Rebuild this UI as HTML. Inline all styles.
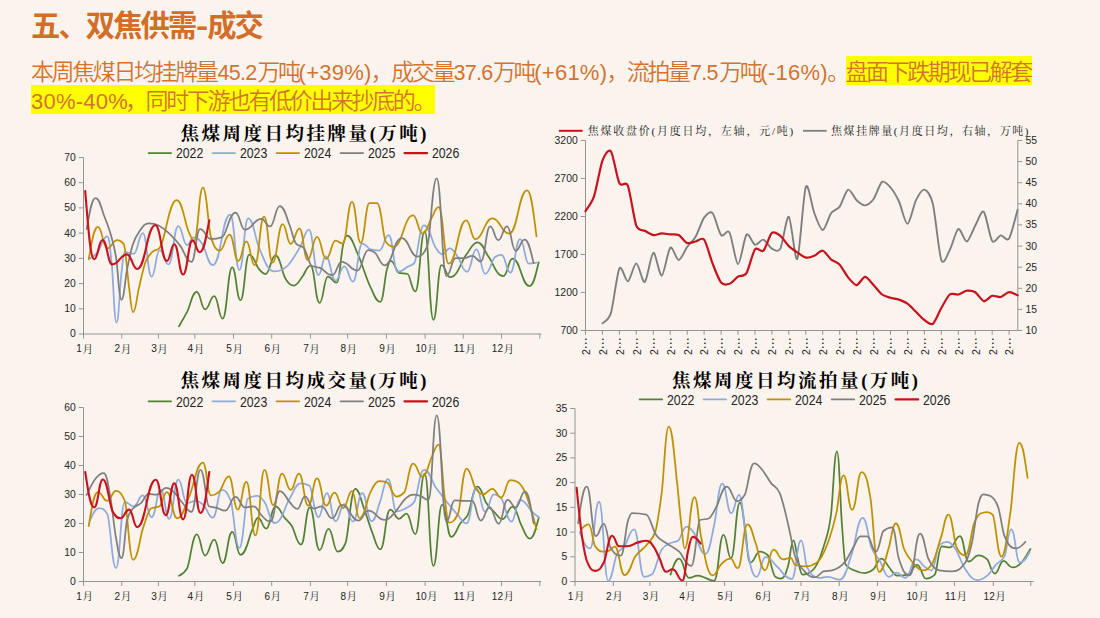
<!DOCTYPE html>
<html lang="zh-CN"><head><meta charset="utf-8"><title>五、双焦供需-成交</title>
<style>
html,body{margin:0;padding:0}
body{width:1100px;height:618px;background:#FBF3EE;position:relative;overflow:hidden;font-family:"Liberation Sans","Noto Sans CJK SC",sans-serif}
h1{position:absolute;left:31px;top:5.8px;margin:0;font-size:29.3px;line-height:40px;font-weight:700;color:#D26E28;white-space:nowrap;letter-spacing:-1.9px}
h1 b{display:inline-block;width:10px;margin-left:1.75px;text-align:center;letter-spacing:0;font-weight:700;transform:scaleX(1.25)}
.p{position:absolute;left:31px;margin:0;font-weight:350;font-size:23px;letter-spacing:-2.4px;line-height:28.6px;height:28.6px;color:#D4732F;white-space:nowrap}
.p1{top:58px}.p2{top:86.8px}
.y{position:absolute;background:#FFFF00}
.hl{display:inline}
.n{display:inline-block;text-align:center;font-size:22px;letter-spacing:0.25px;position:relative;top:0.4px}
.n2{font-size:21.5px;letter-spacing:-0.7px}
svg{position:absolute;left:0;top:0}
</style></head><body>
<h1>五、双焦供需<b>-</b>成交</h1>
<div class="y" style="left:845.6px;top:56px;width:186.4px;height:28.5px"></div><div class="y" style="left:30.8px;top:85.2px;width:404.4px;height:28.6px"></div>
<p class="p p1">本周焦煤日均挂牌量<span class="n n2" style="width:41px">45.2</span>万吨<span class="n" style="width:72px">(+39%)</span>，成交量<span class="n n2" style="width:40px">37.6</span>万吨<span class="n" style="width:72px">(+61%)</span>，流拍量<span class="n n2" style="width:30.5px">7.5</span>万吨<span class="n" style="width:67px">(-16%)</span><span style="margin-right:-2.5px">。</span><span class="hl">盘面下跌期现已解套</span></p>
<p class="p p2"><span class="hl"><span class="n" style="width:94px;text-align:left">30%-40%</span>，同时下游也有低价出来抄底的。</span></p>
<svg width="1100" height="618" viewBox="0 0 1100 618">
<line x1="83.5" y1="157.5" x2="83.5" y2="334.0" stroke="#949494" stroke-width="1"/>
<line x1="83.5" y1="334.0" x2="541.3" y2="334.0" stroke="#949494" stroke-width="1"/>
<line x1="78.8" y1="334.0" x2="83.5" y2="334.0" stroke="#949494" stroke-width="1"/>
<text x="75.7" y="337.4" font-size="11.8" text-anchor="end" font-family='"Liberation Sans","Noto Sans CJK SC",sans-serif' fill="#262626" textLength="5.8" lengthAdjust="spacingAndGlyphs">0</text>
<line x1="78.8" y1="308.8" x2="83.5" y2="308.8" stroke="#949494" stroke-width="1"/>
<text x="75.7" y="312.2" font-size="11.8" text-anchor="end" font-family='"Liberation Sans","Noto Sans CJK SC",sans-serif' fill="#262626" textLength="11.5" lengthAdjust="spacingAndGlyphs">10</text>
<line x1="78.8" y1="283.6" x2="83.5" y2="283.6" stroke="#949494" stroke-width="1"/>
<text x="75.7" y="287.0" font-size="11.8" text-anchor="end" font-family='"Liberation Sans","Noto Sans CJK SC",sans-serif' fill="#262626" textLength="11.5" lengthAdjust="spacingAndGlyphs">20</text>
<line x1="78.8" y1="258.4" x2="83.5" y2="258.4" stroke="#949494" stroke-width="1"/>
<text x="75.7" y="261.8" font-size="11.8" text-anchor="end" font-family='"Liberation Sans","Noto Sans CJK SC",sans-serif' fill="#262626" textLength="11.5" lengthAdjust="spacingAndGlyphs">30</text>
<line x1="78.8" y1="233.1" x2="83.5" y2="233.1" stroke="#949494" stroke-width="1"/>
<text x="75.7" y="236.5" font-size="11.8" text-anchor="end" font-family='"Liberation Sans","Noto Sans CJK SC",sans-serif' fill="#262626" textLength="11.5" lengthAdjust="spacingAndGlyphs">40</text>
<line x1="78.8" y1="207.9" x2="83.5" y2="207.9" stroke="#949494" stroke-width="1"/>
<text x="75.7" y="211.3" font-size="11.8" text-anchor="end" font-family='"Liberation Sans","Noto Sans CJK SC",sans-serif' fill="#262626" textLength="11.5" lengthAdjust="spacingAndGlyphs">50</text>
<line x1="78.8" y1="182.7" x2="83.5" y2="182.7" stroke="#949494" stroke-width="1"/>
<text x="75.7" y="186.1" font-size="11.8" text-anchor="end" font-family='"Liberation Sans","Noto Sans CJK SC",sans-serif' fill="#262626" textLength="11.5" lengthAdjust="spacingAndGlyphs">60</text>
<line x1="78.8" y1="157.5" x2="83.5" y2="157.5" stroke="#949494" stroke-width="1"/>
<text x="75.7" y="160.9" font-size="11.8" text-anchor="end" font-family='"Liberation Sans","Noto Sans CJK SC",sans-serif' fill="#262626" textLength="11.5" lengthAdjust="spacingAndGlyphs">70</text>
<line x1="83.5" y1="334.0" x2="83.5" y2="338.5" stroke="#949494" stroke-width="1"/>
<text x="76.3" y="352.3" font-size="11.3" text-anchor="start" font-family='"Liberation Sans","Noto Sans CJK SC",sans-serif' fill="#262626" textLength="5.6" lengthAdjust="spacingAndGlyphs">1</text>
<text x="82.4" y="352.6" font-size="10.6" text-anchor="start" font-family='"Liberation Serif","Noto Serif CJK SC",serif' fill="#262626">月</text>
<line x1="121.8" y1="334.0" x2="121.8" y2="338.5" stroke="#949494" stroke-width="1"/>
<text x="114.6" y="352.3" font-size="11.3" text-anchor="start" font-family='"Liberation Sans","Noto Sans CJK SC",sans-serif' fill="#262626" textLength="5.6" lengthAdjust="spacingAndGlyphs">2</text>
<text x="120.7" y="352.6" font-size="10.6" text-anchor="start" font-family='"Liberation Serif","Noto Serif CJK SC",serif' fill="#262626">月</text>
<line x1="158.4" y1="334.0" x2="158.4" y2="338.5" stroke="#949494" stroke-width="1"/>
<text x="151.2" y="352.3" font-size="11.3" text-anchor="start" font-family='"Liberation Sans","Noto Sans CJK SC",sans-serif' fill="#262626" textLength="5.6" lengthAdjust="spacingAndGlyphs">3</text>
<text x="157.3" y="352.6" font-size="10.6" text-anchor="start" font-family='"Liberation Serif","Noto Serif CJK SC",serif' fill="#262626">月</text>
<line x1="194.8" y1="334.0" x2="194.8" y2="338.5" stroke="#949494" stroke-width="1"/>
<text x="187.6" y="352.3" font-size="11.3" text-anchor="start" font-family='"Liberation Sans","Noto Sans CJK SC",sans-serif' fill="#262626" textLength="5.6" lengthAdjust="spacingAndGlyphs">4</text>
<text x="193.7" y="352.6" font-size="10.6" text-anchor="start" font-family='"Liberation Serif","Noto Serif CJK SC",serif' fill="#262626">月</text>
<line x1="233.5" y1="334.0" x2="233.5" y2="338.5" stroke="#949494" stroke-width="1"/>
<text x="226.3" y="352.3" font-size="11.3" text-anchor="start" font-family='"Liberation Sans","Noto Sans CJK SC",sans-serif' fill="#262626" textLength="5.6" lengthAdjust="spacingAndGlyphs">5</text>
<text x="232.4" y="352.6" font-size="10.6" text-anchor="start" font-family='"Liberation Serif","Noto Serif CJK SC",serif' fill="#262626">月</text>
<line x1="271.7" y1="334.0" x2="271.7" y2="338.5" stroke="#949494" stroke-width="1"/>
<text x="264.5" y="352.3" font-size="11.3" text-anchor="start" font-family='"Liberation Sans","Noto Sans CJK SC",sans-serif' fill="#262626" textLength="5.6" lengthAdjust="spacingAndGlyphs">6</text>
<text x="270.6" y="352.6" font-size="10.6" text-anchor="start" font-family='"Liberation Serif","Noto Serif CJK SC",serif' fill="#262626">月</text>
<line x1="310.4" y1="334.0" x2="310.4" y2="338.5" stroke="#949494" stroke-width="1"/>
<text x="303.2" y="352.3" font-size="11.3" text-anchor="start" font-family='"Liberation Sans","Noto Sans CJK SC",sans-serif' fill="#262626" textLength="5.6" lengthAdjust="spacingAndGlyphs">7</text>
<text x="309.3" y="352.6" font-size="10.6" text-anchor="start" font-family='"Liberation Serif","Noto Serif CJK SC",serif' fill="#262626">月</text>
<line x1="347.6" y1="334.0" x2="347.6" y2="338.5" stroke="#949494" stroke-width="1"/>
<text x="340.4" y="352.3" font-size="11.3" text-anchor="start" font-family='"Liberation Sans","Noto Sans CJK SC",sans-serif' fill="#262626" textLength="5.6" lengthAdjust="spacingAndGlyphs">8</text>
<text x="346.5" y="352.6" font-size="10.6" text-anchor="start" font-family='"Liberation Serif","Noto Serif CJK SC",serif' fill="#262626">月</text>
<line x1="386.4" y1="334.0" x2="386.4" y2="338.5" stroke="#949494" stroke-width="1"/>
<text x="379.2" y="352.3" font-size="11.3" text-anchor="start" font-family='"Liberation Sans","Noto Sans CJK SC",sans-serif' fill="#262626" textLength="5.6" lengthAdjust="spacingAndGlyphs">9</text>
<text x="385.3" y="352.6" font-size="10.6" text-anchor="start" font-family='"Liberation Serif","Noto Serif CJK SC",serif' fill="#262626">月</text>
<line x1="425.1" y1="334.0" x2="425.1" y2="338.5" stroke="#949494" stroke-width="1"/>
<text x="415.4" y="352.3" font-size="11.3" text-anchor="start" font-family='"Liberation Sans","Noto Sans CJK SC",sans-serif' fill="#262626" textLength="11.2" lengthAdjust="spacingAndGlyphs">10</text>
<text x="427.1" y="352.6" font-size="10.6" text-anchor="start" font-family='"Liberation Serif","Noto Serif CJK SC",serif' fill="#262626">月</text>
<line x1="463.3" y1="334.0" x2="463.3" y2="338.5" stroke="#949494" stroke-width="1"/>
<text x="453.6" y="352.3" font-size="11.3" text-anchor="start" font-family='"Liberation Sans","Noto Sans CJK SC",sans-serif' fill="#262626" textLength="11.2" lengthAdjust="spacingAndGlyphs">11</text>
<text x="465.3" y="352.6" font-size="10.6" text-anchor="start" font-family='"Liberation Serif","Noto Serif CJK SC",serif' fill="#262626">月</text>
<line x1="501.5" y1="334.0" x2="501.5" y2="338.5" stroke="#949494" stroke-width="1"/>
<text x="491.8" y="352.3" font-size="11.3" text-anchor="start" font-family='"Liberation Sans","Noto Sans CJK SC",sans-serif' fill="#262626" textLength="11.2" lengthAdjust="spacingAndGlyphs">12</text>
<text x="503.5" y="352.6" font-size="10.6" text-anchor="start" font-family='"Liberation Serif","Noto Serif CJK SC",serif' fill="#262626">月</text>
<line x1="539.8" y1="334.0" x2="539.8" y2="338.5" stroke="#949494" stroke-width="1"/>
<path d="M178.9 326.4C181.6 321.8 184.3 317.3 187.0 312.2C190.3 306.0 192.2 291.9 196.8 291.9C200.7 291.9 201.2 309.3 205.1 309.3C209.4 309.3 210.0 296.2 214.3 296.2C218.2 296.2 218.7 318.7 222.6 318.7C227.1 318.7 227.7 267.4 232.2 267.4C236.1 267.4 236.6 300.2 240.5 300.2C244.6 300.2 245.1 254.7 249.2 254.7C253.9 254.7 255.8 265.8 259.1 269.2C261.3 271.4 262.5 274.0 265.6 274.0C270.2 274.0 270.8 255.4 275.5 255.4C280.1 255.4 282.0 273.3 285.3 278.3C288.0 282.6 289.7 285.5 293.6 285.5C297.9 285.5 299.7 279.8 302.7 276.1C305.3 273.0 306.8 265.7 310.5 265.7C314.8 265.7 315.3 302.8 319.6 302.8C323.5 302.8 324.0 276.6 327.9 276.6C332.0 276.6 332.6 282.7 336.7 282.7C339.7 282.7 341.0 252.3 343.2 244.5C344.5 239.8 345.3 235.7 347.1 235.7C352.0 235.7 354.0 246.1 357.4 253.2C361.8 262.3 366.1 278.5 370.5 287.1C373.8 293.5 375.7 301.9 380.3 301.9C383.4 301.9 384.7 276.7 386.9 269.6C388.2 265.4 389.0 260.9 390.8 260.9C394.6 260.9 396.2 272.2 398.9 272.9C401.8 273.6 404.7 273.2 407.6 274.0C410.2 274.6 411.7 291.4 415.3 291.4C419.7 291.4 420.3 231.4 424.7 231.4C428.8 231.4 429.3 319.8 433.4 319.8C437.2 319.8 437.7 265.2 441.5 265.2C445.6 265.2 446.1 277.2 450.2 277.2C457.9 277.2 461.1 261.0 466.6 254.3C470.2 249.9 472.4 242.3 477.5 242.3C482.7 242.3 484.8 251.7 488.4 256.5C493.4 263.0 496.3 276.1 503.3 276.1C507.6 276.1 508.2 258.7 512.5 258.7C520.5 258.7 521.5 286.0 529.5 286.0C533.8 286.0 535.6 274.2 538.7 262.4" fill="none" stroke="#548235" stroke-width="1.75" stroke-linecap="round" stroke-linejoin="round"/>
<path d="M89.8 258.5C92.4 257.1 94.9 255.6 97.5 252.6C100.7 248.8 102.7 236.3 107.3 236.3C109.4 236.3 110.2 250.3 111.7 263.6C113.3 278.2 114.2 322.5 116.5 322.5C118.8 322.5 119.8 285.1 121.5 272.3C122.6 263.9 123.2 252.2 124.8 252.2C128.9 252.2 129.4 253.9 133.5 253.9C137.9 253.9 138.5 233.0 142.9 233.0C147.0 233.0 147.5 276.7 151.6 276.7C155.4 276.7 155.9 250.0 159.7 250.0C163.8 250.0 164.3 264.4 168.4 264.4C173.1 264.4 173.7 226.0 178.3 226.0C182.4 226.0 182.9 245.0 187.0 245.0C190.1 245.0 190.5 237.4 193.6 237.4C197.7 237.4 199.4 240.0 202.3 243.9C205.8 248.5 207.8 265.1 212.8 265.1C221.0 265.1 222.0 214.6 230.2 214.6C234.6 214.6 235.1 269.9 239.4 269.9C243.5 269.9 244.0 218.4 248.2 218.4C253.3 218.4 255.4 239.8 259.1 247.8C264.2 259.1 267.2 271.4 274.4 271.4C286.7 271.4 291.8 261.1 300.6 246.1C303.4 241.3 305.0 229.7 308.9 229.7C313.4 229.7 314.0 275.1 318.5 275.1C321.9 275.1 322.4 256.4 325.7 256.4C330.4 256.4 331.0 280.6 335.6 280.6C339.7 280.6 340.2 266.4 344.3 266.4C348.4 266.4 348.9 281.7 353.0 281.7C357.4 281.7 357.9 243.5 362.2 243.5C366.1 243.5 367.7 248.7 370.5 249.4C373.4 250.1 375.1 250.5 379.2 250.5C383.7 250.5 384.2 235.2 388.6 235.2C393.0 235.2 393.5 271.9 397.8 271.9C402.4 271.9 404.4 268.6 407.6 266.8C409.8 265.6 412.0 265.6 414.2 263.1C417.5 259.4 419.4 225.3 424.0 225.3C429.7 225.3 432.0 243.2 436.0 248.3C438.2 251.1 439.5 254.4 442.6 254.4C445.9 254.4 446.3 248.3 449.6 248.3C453.5 248.3 455.1 253.4 457.9 257.0C460.9 261.0 462.7 271.9 467.0 271.9C471.5 271.9 472.0 249.4 476.4 249.4C480.5 249.4 481.1 273.8 485.2 273.8C489.8 273.8 491.7 259.2 495.0 257.0C497.2 255.6 498.5 254.8 501.5 254.8C505.6 254.8 506.2 272.7 510.3 272.7C514.9 272.7 515.5 239.1 520.1 239.1C524.2 239.1 524.7 263.6 528.8 263.6C532.6 263.6 534.2 263.0 536.9 262.5" fill="none" stroke="#8FAADC" stroke-width="1.75" stroke-linecap="round" stroke-linejoin="round"/>
<path d="M88.7 259.2C91.8 243.0 93.6 226.9 97.9 226.9C102.3 226.9 102.9 248.3 107.3 248.3C111.9 248.3 112.5 240.2 117.1 240.2C120.2 240.2 121.5 241.4 123.7 243.9C125.5 246.0 127.3 274.8 129.1 287.6C130.4 296.7 131.2 312.3 133.1 312.3C135.8 312.3 137.0 295.5 139.0 287.6C141.1 278.7 143.3 267.9 145.5 262.0C147.7 256.1 149.9 254.5 152.1 252.2C154.6 249.5 157.2 250.7 159.7 247.8C165.4 241.3 168.7 200.2 176.7 200.2C182.6 200.2 185.0 225.2 189.2 233.0C190.8 236.0 191.7 240.6 194.0 240.6C198.2 240.6 198.7 187.6 202.9 187.6C206.7 187.6 208.3 229.3 211.0 237.4C213.9 246.1 215.7 250.5 219.8 250.5C224.4 250.5 225.0 234.7 229.6 234.7C233.7 234.7 234.2 260.9 238.3 260.9C242.1 260.9 242.6 241.3 246.4 241.3C250.3 241.3 250.8 265.3 254.7 265.3C259.1 265.3 259.7 216.6 264.1 216.6C268.1 216.6 268.6 262.5 272.6 262.5C277.3 262.5 277.9 224.2 282.7 224.2C286.5 224.2 286.9 243.9 290.7 243.9C294.8 243.9 295.4 228.6 299.5 228.6C303.3 228.6 303.8 259.8 307.6 259.8C312.0 259.8 312.6 236.9 317.0 236.9C321.3 236.9 321.9 258.8 326.2 258.8C330.6 258.8 331.2 240.6 335.6 240.6C338.9 240.6 339.3 243.5 342.6 243.5C347.0 243.5 347.5 201.8 352.0 201.8C356.1 201.8 356.6 242.8 360.7 242.8C364.8 242.8 365.3 203.1 369.4 203.1C373.0 203.1 373.5 203.1 377.1 203.1C381.2 203.1 382.9 237.9 385.8 241.7C388.3 245.1 389.9 246.7 393.4 246.7C402.7 246.7 403.9 215.5 413.1 215.5C417.5 215.5 418.1 233.6 422.5 233.6C426.8 233.6 428.6 222.6 431.7 217.7C434.0 214.0 435.4 207.2 438.6 207.2C443.4 207.2 444.0 263.6 448.7 263.6C456.9 263.6 458.0 220.3 466.2 220.3C470.5 220.3 471.0 239.1 475.3 239.1C483.3 239.1 484.4 218.4 492.4 218.4C500.3 218.4 501.3 233.6 509.2 233.6C517.6 233.6 518.7 190.4 527.1 190.4C531.5 190.4 533.4 213.3 536.5 236.3" fill="none" stroke="#BF9000" stroke-width="1.75" stroke-linecap="round" stroke-linejoin="round"/>
<path d="M86.6 229.1C89.6 213.5 91.4 198.0 95.7 198.0C99.6 198.0 101.3 208.6 104.0 215.5C106.2 221.0 108.4 226.3 110.6 234.1C112.4 240.6 114.2 246.1 116.0 257.0C117.9 268.0 118.9 299.8 121.5 299.8C124.1 299.8 125.1 278.7 127.0 269.7C128.8 260.6 130.6 251.8 132.4 245.7C135.0 237.0 137.5 234.0 140.1 230.4C143.0 226.2 144.7 223.4 148.8 223.4C157.5 223.4 161.2 226.8 167.4 231.9C171.7 235.5 176.1 240.5 180.5 246.1C184.1 250.7 186.2 261.8 191.4 261.8C195.5 261.8 196.0 229.1 200.1 229.1C205.2 229.1 205.9 239.1 211.0 239.1C216.2 239.1 218.3 238.5 221.9 237.4C226.5 235.9 229.1 212.7 235.5 212.7C239.9 212.7 240.5 229.7 244.9 229.7C252.6 229.7 253.6 218.8 261.3 218.8C265.4 218.8 265.9 226.4 270.0 226.4C274.6 226.4 275.2 206.1 279.8 206.1C284.4 206.1 286.4 217.2 289.6 225.3C291.8 230.8 294.0 241.7 296.2 243.9C298.7 246.5 301.3 245.2 303.8 247.8C306.4 250.5 309.0 264.5 311.6 265.7C314.5 267.2 317.4 266.8 320.3 267.9C324.3 269.5 326.7 275.1 332.3 275.1C336.7 275.1 337.3 261.8 341.7 261.8C349.1 261.8 350.0 270.5 357.4 270.5C362.5 270.5 363.2 250.0 368.3 250.0C371.4 250.0 372.7 251.0 374.9 252.6C378.2 255.1 380.1 265.3 384.7 265.3C392.7 265.3 393.7 238.0 401.7 238.0C409.1 238.0 410.1 256.6 417.5 256.6C422.1 256.6 424.0 253.1 427.3 246.1C430.4 239.4 432.3 178.4 436.7 178.4C441.3 178.4 441.9 276.0 446.5 276.0C450.8 276.0 451.4 258.1 455.7 258.1C459.8 258.1 460.3 258.1 464.4 258.1C468.0 258.1 468.5 255.9 472.1 255.9C476.2 255.9 476.7 261.4 480.8 261.4C485.2 261.4 485.8 226.4 490.2 226.4C494.0 226.4 494.5 240.2 498.3 240.2C502.4 240.2 502.9 226.4 507.0 226.4C511.1 226.4 511.6 250.9 515.7 250.9C519.8 250.9 520.4 239.5 524.5 239.5C528.8 239.5 530.6 251.3 533.6 263.1" fill="none" stroke="#7F7F7F" stroke-width="1.75" stroke-linecap="round" stroke-linejoin="round"/>
<path d="M85.2 191.1C88.2 225.1 90.0 259.2 94.2 259.2C98.1 259.2 98.6 240.0 102.5 240.0C107.1 240.0 107.7 264.4 112.3 264.4C119.2 264.4 120.1 254.4 127.0 254.4C131.8 254.4 132.4 269.0 137.2 269.0C145.7 269.0 146.8 225.3 155.3 225.3C160.8 225.3 161.5 260.9 166.9 260.9C170.4 260.9 170.9 244.3 174.3 244.3C178.4 244.3 179.0 274.5 183.1 274.5C187.5 274.5 188.1 240.6 192.5 240.6C195.9 240.6 196.3 252.2 199.7 252.2C204.2 252.2 206.1 236.3 209.3 220.3" fill="none" stroke="#C9121C" stroke-width="2.1" stroke-linecap="round" stroke-linejoin="round"/>
<text x="303.5" y="139.5" font-size="18.5" text-anchor="middle" font-family='"Liberation Serif","Noto Serif CJK SC",serif' font-weight="bold" fill="#000" textLength="246" lengthAdjust="spacing">焦煤周度日均挂牌量(万吨)</text>
<line x1="148.5" y1="153.1" x2="171.1" y2="153.1" stroke="#548235" stroke-width="1.75" stroke-linecap="round"/>
<text x="175.9" y="158.3" font-size="13.8" text-anchor="start" font-family='"Liberation Sans","Noto Sans CJK SC",sans-serif' fill="#262626" textLength="27.4" lengthAdjust="spacingAndGlyphs">2022</text>
<line x1="212.5" y1="153.1" x2="235.1" y2="153.1" stroke="#8FAADC" stroke-width="1.75" stroke-linecap="round"/>
<text x="239.9" y="158.3" font-size="13.8" text-anchor="start" font-family='"Liberation Sans","Noto Sans CJK SC",sans-serif' fill="#262626" textLength="27.4" lengthAdjust="spacingAndGlyphs">2023</text>
<line x1="276.5" y1="153.1" x2="299.1" y2="153.1" stroke="#BF9000" stroke-width="1.75" stroke-linecap="round"/>
<text x="303.9" y="158.3" font-size="13.8" text-anchor="start" font-family='"Liberation Sans","Noto Sans CJK SC",sans-serif' fill="#262626" textLength="27.4" lengthAdjust="spacingAndGlyphs">2024</text>
<line x1="340.5" y1="153.1" x2="363.1" y2="153.1" stroke="#7F7F7F" stroke-width="1.75" stroke-linecap="round"/>
<text x="367.9" y="158.3" font-size="13.8" text-anchor="start" font-family='"Liberation Sans","Noto Sans CJK SC",sans-serif' fill="#262626" textLength="27.4" lengthAdjust="spacingAndGlyphs">2025</text>
<line x1="404.5" y1="153.1" x2="427.1" y2="153.1" stroke="#C9121C" stroke-width="2.2" stroke-linecap="round"/>
<text x="431.9" y="158.3" font-size="13.8" text-anchor="start" font-family='"Liberation Sans","Noto Sans CJK SC",sans-serif' fill="#262626" textLength="27.4" lengthAdjust="spacingAndGlyphs">2026</text>
<line x1="83.5" y1="407.5" x2="83.5" y2="581.5" stroke="#949494" stroke-width="1"/>
<line x1="83.5" y1="581.5" x2="541.3" y2="581.5" stroke="#949494" stroke-width="1"/>
<line x1="78.8" y1="581.5" x2="83.5" y2="581.5" stroke="#949494" stroke-width="1"/>
<text x="75.7" y="584.9" font-size="11.8" text-anchor="end" font-family='"Liberation Sans","Noto Sans CJK SC",sans-serif' fill="#262626" textLength="5.8" lengthAdjust="spacingAndGlyphs">0</text>
<line x1="78.8" y1="552.5" x2="83.5" y2="552.5" stroke="#949494" stroke-width="1"/>
<text x="75.7" y="555.9" font-size="11.8" text-anchor="end" font-family='"Liberation Sans","Noto Sans CJK SC",sans-serif' fill="#262626" textLength="11.5" lengthAdjust="spacingAndGlyphs">10</text>
<line x1="78.8" y1="523.5" x2="83.5" y2="523.5" stroke="#949494" stroke-width="1"/>
<text x="75.7" y="526.9" font-size="11.8" text-anchor="end" font-family='"Liberation Sans","Noto Sans CJK SC",sans-serif' fill="#262626" textLength="11.5" lengthAdjust="spacingAndGlyphs">20</text>
<line x1="78.8" y1="494.5" x2="83.5" y2="494.5" stroke="#949494" stroke-width="1"/>
<text x="75.7" y="497.9" font-size="11.8" text-anchor="end" font-family='"Liberation Sans","Noto Sans CJK SC",sans-serif' fill="#262626" textLength="11.5" lengthAdjust="spacingAndGlyphs">30</text>
<line x1="78.8" y1="465.5" x2="83.5" y2="465.5" stroke="#949494" stroke-width="1"/>
<text x="75.7" y="468.9" font-size="11.8" text-anchor="end" font-family='"Liberation Sans","Noto Sans CJK SC",sans-serif' fill="#262626" textLength="11.5" lengthAdjust="spacingAndGlyphs">40</text>
<line x1="78.8" y1="436.5" x2="83.5" y2="436.5" stroke="#949494" stroke-width="1"/>
<text x="75.7" y="439.9" font-size="11.8" text-anchor="end" font-family='"Liberation Sans","Noto Sans CJK SC",sans-serif' fill="#262626" textLength="11.5" lengthAdjust="spacingAndGlyphs">50</text>
<line x1="78.8" y1="407.5" x2="83.5" y2="407.5" stroke="#949494" stroke-width="1"/>
<text x="75.7" y="410.9" font-size="11.8" text-anchor="end" font-family='"Liberation Sans","Noto Sans CJK SC",sans-serif' fill="#262626" textLength="11.5" lengthAdjust="spacingAndGlyphs">60</text>
<line x1="83.5" y1="581.5" x2="83.5" y2="586.0" stroke="#949494" stroke-width="1"/>
<text x="76.3" y="599.8" font-size="11.3" text-anchor="start" font-family='"Liberation Sans","Noto Sans CJK SC",sans-serif' fill="#262626" textLength="5.6" lengthAdjust="spacingAndGlyphs">1</text>
<text x="82.4" y="600.1" font-size="10.6" text-anchor="start" font-family='"Liberation Serif","Noto Serif CJK SC",serif' fill="#262626">月</text>
<line x1="121.8" y1="581.5" x2="121.8" y2="586.0" stroke="#949494" stroke-width="1"/>
<text x="114.6" y="599.8" font-size="11.3" text-anchor="start" font-family='"Liberation Sans","Noto Sans CJK SC",sans-serif' fill="#262626" textLength="5.6" lengthAdjust="spacingAndGlyphs">2</text>
<text x="120.7" y="600.1" font-size="10.6" text-anchor="start" font-family='"Liberation Serif","Noto Serif CJK SC",serif' fill="#262626">月</text>
<line x1="158.4" y1="581.5" x2="158.4" y2="586.0" stroke="#949494" stroke-width="1"/>
<text x="151.2" y="599.8" font-size="11.3" text-anchor="start" font-family='"Liberation Sans","Noto Sans CJK SC",sans-serif' fill="#262626" textLength="5.6" lengthAdjust="spacingAndGlyphs">3</text>
<text x="157.3" y="600.1" font-size="10.6" text-anchor="start" font-family='"Liberation Serif","Noto Serif CJK SC",serif' fill="#262626">月</text>
<line x1="194.8" y1="581.5" x2="194.8" y2="586.0" stroke="#949494" stroke-width="1"/>
<text x="187.6" y="599.8" font-size="11.3" text-anchor="start" font-family='"Liberation Sans","Noto Sans CJK SC",sans-serif' fill="#262626" textLength="5.6" lengthAdjust="spacingAndGlyphs">4</text>
<text x="193.7" y="600.1" font-size="10.6" text-anchor="start" font-family='"Liberation Serif","Noto Serif CJK SC",serif' fill="#262626">月</text>
<line x1="233.5" y1="581.5" x2="233.5" y2="586.0" stroke="#949494" stroke-width="1"/>
<text x="226.3" y="599.8" font-size="11.3" text-anchor="start" font-family='"Liberation Sans","Noto Sans CJK SC",sans-serif' fill="#262626" textLength="5.6" lengthAdjust="spacingAndGlyphs">5</text>
<text x="232.4" y="600.1" font-size="10.6" text-anchor="start" font-family='"Liberation Serif","Noto Serif CJK SC",serif' fill="#262626">月</text>
<line x1="271.7" y1="581.5" x2="271.7" y2="586.0" stroke="#949494" stroke-width="1"/>
<text x="264.5" y="599.8" font-size="11.3" text-anchor="start" font-family='"Liberation Sans","Noto Sans CJK SC",sans-serif' fill="#262626" textLength="5.6" lengthAdjust="spacingAndGlyphs">6</text>
<text x="270.6" y="600.1" font-size="10.6" text-anchor="start" font-family='"Liberation Serif","Noto Serif CJK SC",serif' fill="#262626">月</text>
<line x1="310.4" y1="581.5" x2="310.4" y2="586.0" stroke="#949494" stroke-width="1"/>
<text x="303.2" y="599.8" font-size="11.3" text-anchor="start" font-family='"Liberation Sans","Noto Sans CJK SC",sans-serif' fill="#262626" textLength="5.6" lengthAdjust="spacingAndGlyphs">7</text>
<text x="309.3" y="600.1" font-size="10.6" text-anchor="start" font-family='"Liberation Serif","Noto Serif CJK SC",serif' fill="#262626">月</text>
<line x1="347.6" y1="581.5" x2="347.6" y2="586.0" stroke="#949494" stroke-width="1"/>
<text x="340.4" y="599.8" font-size="11.3" text-anchor="start" font-family='"Liberation Sans","Noto Sans CJK SC",sans-serif' fill="#262626" textLength="5.6" lengthAdjust="spacingAndGlyphs">8</text>
<text x="346.5" y="600.1" font-size="10.6" text-anchor="start" font-family='"Liberation Serif","Noto Serif CJK SC",serif' fill="#262626">月</text>
<line x1="386.4" y1="581.5" x2="386.4" y2="586.0" stroke="#949494" stroke-width="1"/>
<text x="379.2" y="599.8" font-size="11.3" text-anchor="start" font-family='"Liberation Sans","Noto Sans CJK SC",sans-serif' fill="#262626" textLength="5.6" lengthAdjust="spacingAndGlyphs">9</text>
<text x="385.3" y="600.1" font-size="10.6" text-anchor="start" font-family='"Liberation Serif","Noto Serif CJK SC",serif' fill="#262626">月</text>
<line x1="425.1" y1="581.5" x2="425.1" y2="586.0" stroke="#949494" stroke-width="1"/>
<text x="415.4" y="599.8" font-size="11.3" text-anchor="start" font-family='"Liberation Sans","Noto Sans CJK SC",sans-serif' fill="#262626" textLength="11.2" lengthAdjust="spacingAndGlyphs">10</text>
<text x="427.1" y="600.1" font-size="10.6" text-anchor="start" font-family='"Liberation Serif","Noto Serif CJK SC",serif' fill="#262626">月</text>
<line x1="463.3" y1="581.5" x2="463.3" y2="586.0" stroke="#949494" stroke-width="1"/>
<text x="453.6" y="599.8" font-size="11.3" text-anchor="start" font-family='"Liberation Sans","Noto Sans CJK SC",sans-serif' fill="#262626" textLength="11.2" lengthAdjust="spacingAndGlyphs">11</text>
<text x="465.3" y="600.1" font-size="10.6" text-anchor="start" font-family='"Liberation Serif","Noto Serif CJK SC",serif' fill="#262626">月</text>
<line x1="501.5" y1="581.5" x2="501.5" y2="586.0" stroke="#949494" stroke-width="1"/>
<text x="491.8" y="599.8" font-size="11.3" text-anchor="start" font-family='"Liberation Sans","Noto Sans CJK SC",sans-serif' fill="#262626" textLength="11.2" lengthAdjust="spacingAndGlyphs">12</text>
<text x="503.5" y="600.1" font-size="10.6" text-anchor="start" font-family='"Liberation Serif","Noto Serif CJK SC",serif' fill="#262626">月</text>
<line x1="539.8" y1="581.5" x2="539.8" y2="586.0" stroke="#949494" stroke-width="1"/>
<path d="M178.9 575.8C181.6 574.6 184.3 573.4 187.0 568.6C190.3 562.7 192.2 534.3 196.8 534.3C200.7 534.3 201.2 555.5 205.1 555.5C209.4 555.5 210.0 539.7 214.3 539.7C218.2 539.7 218.7 563.1 222.6 563.1C227.1 563.1 227.7 531.9 232.2 531.9C236.1 531.9 236.6 554.8 240.5 554.8C246.2 554.8 248.5 537.6 252.5 529.2C254.3 525.4 255.4 517.9 258.0 517.9C261.9 517.9 262.4 528.6 266.3 528.6C270.6 528.6 271.1 506.3 275.5 506.3C279.6 506.3 281.3 513.8 284.2 517.2C286.7 520.3 289.3 522.0 291.8 526.0C294.9 530.7 296.7 544.5 301.0 544.5C305.1 544.5 305.7 507.4 309.8 507.4C314.4 507.4 315.0 550.0 319.6 550.0C323.8 550.0 324.4 528.8 328.6 528.8C332.9 528.8 333.4 551.7 337.8 551.7C341.3 551.7 342.9 549.0 345.4 543.4C348.7 536.3 350.6 488.8 355.2 488.8C359.3 488.8 361.1 501.0 364.0 508.5C366.9 516.0 369.8 526.5 372.7 533.6C375.2 539.8 376.7 549.3 380.3 549.3C385.0 549.3 385.5 509.6 390.2 509.6C394.3 509.6 394.8 518.8 398.9 518.8C402.5 518.8 403.0 513.5 406.5 513.5C410.7 513.5 411.2 534.1 415.3 534.1C419.7 534.1 420.3 473.6 424.7 473.6C428.8 473.6 429.3 565.9 433.4 565.9C437.5 565.9 438.0 504.8 442.1 504.8C446.5 504.8 447.0 536.9 451.3 536.9C455.4 536.9 457.1 527.6 460.1 523.8C462.6 520.5 465.1 519.9 467.7 515.1C471.0 508.8 472.9 486.7 477.5 486.7C481.6 486.7 483.3 498.7 486.3 503.0C489.2 507.4 492.1 510.1 495.0 512.9C497.5 515.3 499.0 519.0 502.6 519.0C507.3 519.0 507.8 506.8 512.5 506.8C516.6 506.8 518.3 519.6 521.2 524.9C524.1 530.2 525.8 538.6 529.9 538.6C534.0 538.6 535.8 528.2 538.7 517.7" fill="none" stroke="#548235" stroke-width="1.75" stroke-linecap="round" stroke-linejoin="round"/>
<path d="M89.8 520.5C93.0 514.3 94.8 508.1 99.2 508.1C103.0 508.1 104.6 510.0 107.3 514.0C110.2 518.2 111.9 568.1 116.0 568.1C120.1 568.1 120.7 502.0 124.8 502.0C128.9 502.0 129.4 506.3 133.5 506.3C137.9 506.3 138.5 495.4 142.9 495.4C147.0 495.4 147.5 517.2 151.6 517.2C155.9 517.2 156.5 489.9 160.8 489.9C164.7 489.9 165.2 518.8 169.1 518.8C173.4 518.8 174.0 479.7 178.3 479.7C182.4 479.7 182.9 503.0 187.0 503.0C191.1 503.0 191.6 500.9 195.7 500.9C199.8 500.9 201.6 503.4 204.5 506.3C207.2 509.1 208.9 517.7 212.8 517.7C217.1 517.7 217.6 489.9 221.9 489.9C226.1 489.9 227.8 493.6 230.7 500.9C233.6 508.1 235.3 547.8 239.4 547.8C243.3 547.8 244.9 500.4 247.7 498.7C250.8 496.8 252.6 495.8 256.9 495.8C260.5 495.8 262.0 498.5 264.5 502.0C268.0 506.5 270.0 523.1 274.8 523.1C281.8 523.1 284.7 506.1 289.6 498.7C293.3 493.2 295.4 483.4 300.6 483.4C304.7 483.4 306.4 484.1 309.4 485.6C312.4 487.1 314.2 517.2 318.5 517.2C322.4 517.2 322.9 493.2 326.8 493.2C330.9 493.2 331.5 521.2 335.6 521.2C339.7 521.2 340.2 504.1 344.3 504.1C348.4 504.1 348.9 521.6 353.0 521.6C357.4 521.6 357.9 493.2 362.2 493.2C366.6 493.2 367.2 521.2 371.6 521.2C375.7 521.2 377.4 508.5 380.3 500.9C382.9 494.2 384.4 479.0 388.0 479.0C392.1 479.0 392.6 511.3 396.7 511.3C400.8 511.3 402.5 510.1 405.5 508.5C408.4 506.9 411.3 506.3 414.2 502.0C417.5 497.0 419.4 469.8 424.0 469.8C429.7 469.8 432.0 482.2 436.0 487.8C439.7 492.8 443.3 497.4 446.9 502.0C450.6 506.5 454.2 511.2 457.9 515.1C460.8 518.1 462.5 523.4 466.6 523.4C471.2 523.4 471.8 487.8 476.4 487.8C480.5 487.8 481.1 511.8 485.2 511.8C489.3 511.8 489.8 494.3 493.9 494.3C497.5 494.3 499.0 495.8 501.5 498.7C504.8 502.4 506.8 521.6 511.4 521.6C515.5 521.6 516.0 499.8 520.1 499.8C525.7 499.8 528.1 508.2 532.1 511.8C534.3 513.7 536.5 515.5 538.7 517.2" fill="none" stroke="#8FAADC" stroke-width="1.75" stroke-linecap="round" stroke-linejoin="round"/>
<path d="M88.7 526.0C91.8 509.0 93.6 492.1 97.9 492.1C102.3 492.1 102.9 500.9 107.3 500.9C111.4 500.9 111.9 491.0 116.0 491.0C120.1 491.0 121.9 494.3 124.8 500.9C127.5 507.1 129.2 559.8 133.1 559.8C137.9 559.8 139.9 536.5 143.3 527.1C145.9 520.0 148.4 509.8 151.0 508.5C153.9 507.0 156.8 507.8 159.7 506.3C162.1 505.1 163.5 492.1 166.9 492.1C171.7 492.1 172.4 518.3 177.2 518.3C182.8 518.3 185.2 505.0 189.2 496.5C193.8 486.8 196.5 462.6 202.9 462.6C206.7 462.6 207.2 495.4 211.0 495.4C215.1 495.4 216.9 493.9 219.8 491.0C222.8 488.0 224.6 476.4 228.9 476.4C233.0 476.4 233.6 509.6 237.7 509.6C241.8 509.6 242.3 481.9 246.4 481.9C250.6 481.9 251.2 535.4 255.4 535.4C259.7 535.4 260.2 469.8 264.5 469.8C268.6 469.8 269.2 505.2 273.3 505.2C277.4 505.2 277.9 473.6 282.0 473.6C286.1 473.6 286.6 489.9 290.7 489.9C294.6 489.9 295.1 473.6 299.0 473.6C303.4 473.6 303.9 505.7 308.3 505.7C312.4 505.7 312.9 478.4 317.0 478.4C321.3 478.4 321.9 505.7 326.2 505.7C330.1 505.7 330.6 492.6 334.5 492.6C338.6 492.6 339.1 508.1 343.2 508.1C347.3 508.1 347.8 491.0 352.0 491.0C355.5 491.0 356.0 518.3 359.6 518.3C364.7 518.3 366.9 498.5 370.5 492.1C373.4 487.0 375.1 481.2 379.2 481.2C382.8 481.2 384.3 481.6 386.9 482.3C390.2 483.2 392.1 496.5 396.7 496.5C400.3 496.5 401.8 495.0 404.4 492.1C407.3 488.8 409.0 463.7 413.1 463.7C417.5 463.7 418.1 476.8 422.5 476.8C426.8 476.8 428.6 463.1 431.7 457.2C434.0 452.7 435.4 444.7 438.6 444.7C441.5 444.7 442.7 484.6 444.8 498.7C446.2 508.7 447.1 522.7 449.1 522.7C453.2 522.7 455.0 519.8 457.9 514.0C460.8 508.1 462.5 468.5 466.6 468.5C470.7 468.5 472.4 483.4 475.3 487.8C477.9 491.5 479.4 494.3 483.0 494.3C487.4 494.3 488.0 488.8 492.4 488.8C496.5 488.8 497.0 497.6 501.1 497.6C505.4 497.6 506.0 480.1 510.3 480.1C513.9 480.1 515.4 480.8 517.9 482.3C520.1 483.5 522.3 486.7 524.5 491.0C528.5 499.0 532.5 514.1 536.5 529.2" fill="none" stroke="#BF9000" stroke-width="1.75" stroke-linecap="round" stroke-linejoin="round"/>
<path d="M86.6 495.0C89.5 488.8 92.4 482.7 95.3 479.0C98.1 475.6 99.7 473.1 103.6 473.1C106.9 473.1 108.2 485.5 110.6 498.7C112.4 509.0 114.2 528.1 116.0 538.0C117.9 547.9 118.9 558.1 121.5 558.1C124.1 558.1 125.1 528.1 127.0 520.5C128.8 512.9 130.6 511.7 132.4 509.2C135.3 505.1 138.2 505.9 141.1 503.0C143.7 500.6 145.2 493.9 148.8 493.9C152.4 493.9 152.8 494.7 156.4 494.7C161.1 494.7 161.6 487.8 166.3 487.8C169.9 487.8 171.4 489.9 173.9 492.1C176.8 494.7 179.7 499.8 182.6 503.0C185.6 506.3 187.3 511.8 191.4 511.8C195.7 511.8 196.2 469.8 200.5 469.8C204.4 469.8 206.1 505.2 208.8 506.3C211.8 507.5 214.7 507.3 217.6 508.1C220.1 508.8 221.6 510.7 225.2 510.7C230.0 510.7 230.7 496.9 235.5 496.9C239.9 496.9 240.5 507.4 244.9 507.4C249.0 507.4 249.5 506.3 253.6 506.3C257.2 506.3 258.7 512.6 261.3 515.1C264.3 518.0 266.1 521.6 270.4 521.6C274.8 521.6 275.4 491.0 279.8 491.0C284.4 491.0 286.4 498.7 289.6 502.0C292.2 504.5 293.7 508.9 297.3 508.9C300.9 508.9 301.4 496.5 305.0 496.5C309.1 496.5 309.6 508.5 313.7 508.5C317.3 508.5 317.8 506.3 321.4 506.3C326.5 506.3 327.2 518.3 332.3 518.3C336.7 518.3 337.3 504.8 341.7 504.8C349.6 504.8 350.6 520.5 358.5 520.5C363.1 520.5 363.7 510.7 368.3 510.7C376.0 510.7 377.0 519.9 384.7 519.9C389.3 519.9 391.3 516.1 394.5 512.9C398.2 509.3 401.8 501.7 405.5 498.7C408.0 496.5 409.5 494.7 413.1 494.7C416.7 494.7 418.2 495.2 420.7 496.1C423.3 496.9 424.8 499.8 428.4 499.8C432.3 499.8 432.8 415.3 436.7 415.3C441.3 415.3 441.9 521.6 446.5 521.6C450.3 521.6 450.8 500.4 454.6 500.4C459.2 500.4 459.8 500.9 464.4 500.9C468.0 500.9 468.5 500.9 472.1 500.9C476.2 500.9 476.7 520.5 480.8 520.5C484.9 520.5 485.4 507.4 489.5 507.4C493.8 507.4 494.4 523.8 498.7 523.8C502.9 523.8 503.4 499.8 507.7 499.8C511.5 499.8 511.9 507.4 515.7 507.4C520.0 507.4 520.6 491.7 524.9 491.7C529.0 491.7 530.7 507.5 533.6 523.4" fill="none" stroke="#7F7F7F" stroke-width="1.75" stroke-linecap="round" stroke-linejoin="round"/>
<path d="M85.2 472.0C88.2 489.7 90.0 507.4 94.2 507.4C98.3 507.4 98.8 479.5 102.9 479.5C107.5 479.5 109.5 506.2 112.8 511.8C115.3 516.1 116.8 518.3 120.4 518.3C124.5 518.3 125.0 509.6 129.1 509.6C132.9 509.6 133.4 527.1 137.2 527.1C145.9 527.1 147.1 479.7 155.8 479.7C160.5 479.7 161.1 515.1 165.8 515.1C169.8 515.1 170.3 483.4 174.3 483.4C178.4 483.4 179.0 519.4 183.1 519.4C187.3 519.4 187.8 474.7 192.0 474.7C196.0 474.7 196.5 512.9 200.5 512.9C204.7 512.9 206.4 492.5 209.3 472.0" fill="none" stroke="#C9121C" stroke-width="2.1" stroke-linecap="round" stroke-linejoin="round"/>
<text x="303.5" y="387.3" font-size="18.5" text-anchor="middle" font-family='"Liberation Serif","Noto Serif CJK SC",serif' font-weight="bold" fill="#000" textLength="246" lengthAdjust="spacing">焦煤周度日均成交量(万吨)</text>
<line x1="148.5" y1="401.3" x2="171.1" y2="401.3" stroke="#548235" stroke-width="1.75" stroke-linecap="round"/>
<text x="175.9" y="406.5" font-size="13.8" text-anchor="start" font-family='"Liberation Sans","Noto Sans CJK SC",sans-serif' fill="#262626" textLength="27.4" lengthAdjust="spacingAndGlyphs">2022</text>
<line x1="212.5" y1="401.3" x2="235.1" y2="401.3" stroke="#8FAADC" stroke-width="1.75" stroke-linecap="round"/>
<text x="239.9" y="406.5" font-size="13.8" text-anchor="start" font-family='"Liberation Sans","Noto Sans CJK SC",sans-serif' fill="#262626" textLength="27.4" lengthAdjust="spacingAndGlyphs">2023</text>
<line x1="276.5" y1="401.3" x2="299.1" y2="401.3" stroke="#BF9000" stroke-width="1.75" stroke-linecap="round"/>
<text x="303.9" y="406.5" font-size="13.8" text-anchor="start" font-family='"Liberation Sans","Noto Sans CJK SC",sans-serif' fill="#262626" textLength="27.4" lengthAdjust="spacingAndGlyphs">2024</text>
<line x1="340.5" y1="401.3" x2="363.1" y2="401.3" stroke="#7F7F7F" stroke-width="1.75" stroke-linecap="round"/>
<text x="367.9" y="406.5" font-size="13.8" text-anchor="start" font-family='"Liberation Sans","Noto Sans CJK SC",sans-serif' fill="#262626" textLength="27.4" lengthAdjust="spacingAndGlyphs">2025</text>
<line x1="404.5" y1="401.3" x2="427.1" y2="401.3" stroke="#C9121C" stroke-width="2.2" stroke-linecap="round"/>
<text x="431.9" y="406.5" font-size="13.8" text-anchor="start" font-family='"Liberation Sans","Noto Sans CJK SC",sans-serif' fill="#262626" textLength="27.4" lengthAdjust="spacingAndGlyphs">2026</text>
<line x1="575.0" y1="408.5" x2="575.0" y2="581.5" stroke="#949494" stroke-width="1"/>
<line x1="575.0" y1="581.5" x2="1033.8" y2="581.5" stroke="#949494" stroke-width="1"/>
<line x1="570.3" y1="581.5" x2="575.0" y2="581.5" stroke="#949494" stroke-width="1"/>
<text x="567.2" y="584.9" font-size="11.8" text-anchor="end" font-family='"Liberation Sans","Noto Sans CJK SC",sans-serif' fill="#262626" textLength="5.8" lengthAdjust="spacingAndGlyphs">0</text>
<line x1="570.3" y1="556.8" x2="575.0" y2="556.8" stroke="#949494" stroke-width="1"/>
<text x="567.2" y="560.2" font-size="11.8" text-anchor="end" font-family='"Liberation Sans","Noto Sans CJK SC",sans-serif' fill="#262626" textLength="5.8" lengthAdjust="spacingAndGlyphs">5</text>
<line x1="570.3" y1="532.1" x2="575.0" y2="532.1" stroke="#949494" stroke-width="1"/>
<text x="567.2" y="535.5" font-size="11.8" text-anchor="end" font-family='"Liberation Sans","Noto Sans CJK SC",sans-serif' fill="#262626" textLength="11.5" lengthAdjust="spacingAndGlyphs">10</text>
<line x1="570.3" y1="507.4" x2="575.0" y2="507.4" stroke="#949494" stroke-width="1"/>
<text x="567.2" y="510.8" font-size="11.8" text-anchor="end" font-family='"Liberation Sans","Noto Sans CJK SC",sans-serif' fill="#262626" textLength="11.5" lengthAdjust="spacingAndGlyphs">15</text>
<line x1="570.3" y1="482.6" x2="575.0" y2="482.6" stroke="#949494" stroke-width="1"/>
<text x="567.2" y="486.0" font-size="11.8" text-anchor="end" font-family='"Liberation Sans","Noto Sans CJK SC",sans-serif' fill="#262626" textLength="11.5" lengthAdjust="spacingAndGlyphs">20</text>
<line x1="570.3" y1="457.9" x2="575.0" y2="457.9" stroke="#949494" stroke-width="1"/>
<text x="567.2" y="461.3" font-size="11.8" text-anchor="end" font-family='"Liberation Sans","Noto Sans CJK SC",sans-serif' fill="#262626" textLength="11.5" lengthAdjust="spacingAndGlyphs">25</text>
<line x1="570.3" y1="433.2" x2="575.0" y2="433.2" stroke="#949494" stroke-width="1"/>
<text x="567.2" y="436.6" font-size="11.8" text-anchor="end" font-family='"Liberation Sans","Noto Sans CJK SC",sans-serif' fill="#262626" textLength="11.5" lengthAdjust="spacingAndGlyphs">30</text>
<line x1="570.3" y1="408.5" x2="575.0" y2="408.5" stroke="#949494" stroke-width="1"/>
<text x="567.2" y="411.9" font-size="11.8" text-anchor="end" font-family='"Liberation Sans","Noto Sans CJK SC",sans-serif' fill="#262626" textLength="11.5" lengthAdjust="spacingAndGlyphs">35</text>
<line x1="575.0" y1="581.5" x2="575.0" y2="586.0" stroke="#949494" stroke-width="1"/>
<text x="567.8" y="599.8" font-size="11.3" text-anchor="start" font-family='"Liberation Sans","Noto Sans CJK SC",sans-serif' fill="#262626" textLength="5.6" lengthAdjust="spacingAndGlyphs">1</text>
<text x="573.9" y="600.1" font-size="10.6" text-anchor="start" font-family='"Liberation Serif","Noto Serif CJK SC",serif' fill="#262626">月</text>
<line x1="613.3" y1="581.5" x2="613.3" y2="586.0" stroke="#949494" stroke-width="1"/>
<text x="606.1" y="599.8" font-size="11.3" text-anchor="start" font-family='"Liberation Sans","Noto Sans CJK SC",sans-serif' fill="#262626" textLength="5.6" lengthAdjust="spacingAndGlyphs">2</text>
<text x="612.2" y="600.1" font-size="10.6" text-anchor="start" font-family='"Liberation Serif","Noto Serif CJK SC",serif' fill="#262626">月</text>
<line x1="649.9" y1="581.5" x2="649.9" y2="586.0" stroke="#949494" stroke-width="1"/>
<text x="642.7" y="599.8" font-size="11.3" text-anchor="start" font-family='"Liberation Sans","Noto Sans CJK SC",sans-serif' fill="#262626" textLength="5.6" lengthAdjust="spacingAndGlyphs">3</text>
<text x="648.8" y="600.1" font-size="10.6" text-anchor="start" font-family='"Liberation Serif","Noto Serif CJK SC",serif' fill="#262626">月</text>
<line x1="686.4" y1="581.5" x2="686.4" y2="586.0" stroke="#949494" stroke-width="1"/>
<text x="679.2" y="599.8" font-size="11.3" text-anchor="start" font-family='"Liberation Sans","Noto Sans CJK SC",sans-serif' fill="#262626" textLength="5.6" lengthAdjust="spacingAndGlyphs">4</text>
<text x="685.3" y="600.1" font-size="10.6" text-anchor="start" font-family='"Liberation Serif","Noto Serif CJK SC",serif' fill="#262626">月</text>
<line x1="724.6" y1="581.5" x2="724.6" y2="586.0" stroke="#949494" stroke-width="1"/>
<text x="717.4" y="599.8" font-size="11.3" text-anchor="start" font-family='"Liberation Sans","Noto Sans CJK SC",sans-serif' fill="#262626" textLength="5.6" lengthAdjust="spacingAndGlyphs">5</text>
<text x="723.5" y="600.1" font-size="10.6" text-anchor="start" font-family='"Liberation Serif","Noto Serif CJK SC",serif' fill="#262626">月</text>
<line x1="762.6" y1="581.5" x2="762.6" y2="586.0" stroke="#949494" stroke-width="1"/>
<text x="755.4" y="599.8" font-size="11.3" text-anchor="start" font-family='"Liberation Sans","Noto Sans CJK SC",sans-serif' fill="#262626" textLength="5.6" lengthAdjust="spacingAndGlyphs">6</text>
<text x="761.5" y="600.1" font-size="10.6" text-anchor="start" font-family='"Liberation Serif","Noto Serif CJK SC",serif' fill="#262626">月</text>
<line x1="801.0" y1="581.5" x2="801.0" y2="586.0" stroke="#949494" stroke-width="1"/>
<text x="793.8" y="599.8" font-size="11.3" text-anchor="start" font-family='"Liberation Sans","Noto Sans CJK SC",sans-serif' fill="#262626" textLength="5.6" lengthAdjust="spacingAndGlyphs">7</text>
<text x="799.9" y="600.1" font-size="10.6" text-anchor="start" font-family='"Liberation Serif","Noto Serif CJK SC",serif' fill="#262626">月</text>
<line x1="839.3" y1="581.5" x2="839.3" y2="586.0" stroke="#949494" stroke-width="1"/>
<text x="832.1" y="599.8" font-size="11.3" text-anchor="start" font-family='"Liberation Sans","Noto Sans CJK SC",sans-serif' fill="#262626" textLength="5.6" lengthAdjust="spacingAndGlyphs">8</text>
<text x="838.2" y="600.1" font-size="10.6" text-anchor="start" font-family='"Liberation Serif","Noto Serif CJK SC",serif' fill="#262626">月</text>
<line x1="877.5" y1="581.5" x2="877.5" y2="586.0" stroke="#949494" stroke-width="1"/>
<text x="870.3" y="599.8" font-size="11.3" text-anchor="start" font-family='"Liberation Sans","Noto Sans CJK SC",sans-serif' fill="#262626" textLength="5.6" lengthAdjust="spacingAndGlyphs">9</text>
<text x="876.4" y="600.1" font-size="10.6" text-anchor="start" font-family='"Liberation Serif","Noto Serif CJK SC",serif' fill="#262626">月</text>
<line x1="916.2" y1="581.5" x2="916.2" y2="586.0" stroke="#949494" stroke-width="1"/>
<text x="906.5" y="599.8" font-size="11.3" text-anchor="start" font-family='"Liberation Sans","Noto Sans CJK SC",sans-serif' fill="#262626" textLength="11.2" lengthAdjust="spacingAndGlyphs">10</text>
<text x="918.2" y="600.1" font-size="10.6" text-anchor="start" font-family='"Liberation Serif","Noto Serif CJK SC",serif' fill="#262626">月</text>
<line x1="954.4" y1="581.5" x2="954.4" y2="586.0" stroke="#949494" stroke-width="1"/>
<text x="944.7" y="599.8" font-size="11.3" text-anchor="start" font-family='"Liberation Sans","Noto Sans CJK SC",sans-serif' fill="#262626" textLength="11.2" lengthAdjust="spacingAndGlyphs">11</text>
<text x="956.4" y="600.1" font-size="10.6" text-anchor="start" font-family='"Liberation Serif","Noto Serif CJK SC",serif' fill="#262626">月</text>
<line x1="993.3" y1="581.5" x2="993.3" y2="586.0" stroke="#949494" stroke-width="1"/>
<text x="983.6" y="599.8" font-size="11.3" text-anchor="start" font-family='"Liberation Sans","Noto Sans CJK SC",sans-serif' fill="#262626" textLength="11.2" lengthAdjust="spacingAndGlyphs">12</text>
<text x="995.3" y="600.1" font-size="10.6" text-anchor="start" font-family='"Liberation Serif","Noto Serif CJK SC",serif' fill="#262626">月</text>
<line x1="1030.8" y1="581.5" x2="1030.8" y2="586.0" stroke="#949494" stroke-width="1"/>
<path d="M670.5 574.6C673.4 566.7 675.1 558.7 679.2 558.7C683.8 558.7 684.4 577.9 689.0 577.9C693.1 577.9 693.6 575.7 697.8 575.7C701.3 575.7 702.8 577.2 705.4 577.9C708.3 578.8 710.0 580.8 714.1 580.8C718.5 580.8 719.1 534.9 723.5 534.9C727.0 534.9 727.5 558.3 730.9 558.3C735.2 558.3 735.7 502.6 739.9 502.6C742.2 502.6 743.1 516.4 744.7 525.5C746.5 535.9 747.6 562.6 750.2 562.6C754.8 562.6 755.4 551.7 760.0 551.7C763.6 551.7 765.1 552.8 767.6 555.0C770.2 557.2 772.7 575.2 775.3 576.8C777.1 578.0 778.2 578.6 780.7 578.6C784.3 578.6 785.8 574.0 788.4 564.8C790.1 558.8 791.0 540.4 793.4 540.4C795.2 540.4 795.9 551.2 797.2 556.1C799.0 563.1 800.1 574.6 802.6 574.6C806.7 574.6 808.5 573.6 811.4 571.4C815.4 568.4 819.4 561.0 823.4 547.4C825.9 538.7 828.5 534.8 831.0 514.6C833.0 499.0 834.2 451.3 836.9 451.3C839.3 451.3 840.3 504.8 842.0 525.5C843.2 540.8 844.4 563.2 845.7 564.8C848.4 568.5 851.2 568.9 854.0 570.3C857.6 572.1 859.7 573.1 864.9 573.1C869.0 573.1 870.7 571.8 873.6 569.2C876.2 566.9 877.7 558.7 881.3 558.7C884.9 558.7 886.4 564.3 888.9 567.0C891.8 570.1 893.5 575.7 897.6 575.7C902.8 575.7 904.9 575.4 908.6 574.6C911.5 574.1 913.2 564.8 917.3 564.8C921.4 564.8 921.9 578.6 926.0 578.6C930.1 578.6 931.9 577.3 934.8 574.6C937.1 572.6 938.5 546.3 941.8 546.3C945.7 546.3 946.1 547.4 950.1 547.4C954.7 547.4 955.3 536.0 959.9 536.0C964.0 536.0 964.5 561.5 968.6 561.5C973.2 561.5 973.8 555.4 978.4 555.4C982.5 555.4 984.3 556.7 987.2 559.4C989.7 561.7 991.2 573.6 994.8 573.6C998.9 573.6 999.4 560.9 1003.6 560.9C1007.7 560.9 1008.2 567.4 1012.3 567.4C1020.8 567.4 1024.4 558.3 1030.4 549.1" fill="none" stroke="#548235" stroke-width="1.75" stroke-linecap="round" stroke-linejoin="round"/>
<path d="M579.8 532.1C583.2 540.3 585.3 548.4 590.1 548.4C594.3 548.4 594.8 501.5 599.0 501.5C603.4 501.5 603.9 580.8 608.2 580.8C612.3 580.8 614.0 559.6 617.0 553.9C619.5 548.9 622.0 549.7 624.6 546.3C627.7 542.0 629.6 529.4 634.0 529.4C638.8 529.4 639.4 576.8 644.2 576.8C647.8 576.8 649.3 576.1 651.9 574.6C655.2 572.8 658.4 554.4 661.7 549.5C664.6 545.2 667.5 544.4 670.5 543.0C673.0 541.7 675.6 542.3 678.1 540.8C681.0 539.1 682.7 526.6 686.8 526.6C689.9 526.6 691.2 529.5 693.4 532.1C697.4 536.8 699.8 553.9 705.4 553.9C709.5 553.9 711.2 537.9 714.1 525.5C716.8 514.0 718.4 483.6 722.2 483.6C726.4 483.6 727.0 513.1 731.2 513.1C735.0 513.1 735.4 494.9 739.2 494.9C742.8 494.9 744.3 534.2 746.9 547.4C750.2 564.3 752.1 576.8 756.7 576.8C760.8 576.8 761.3 557.2 765.5 557.2C771.1 557.2 773.5 563.7 777.5 567.0C782.2 570.9 785.0 579.0 791.7 579.0C796.1 579.0 796.7 540.4 801.1 540.4C803.9 540.4 805.0 563.4 807.0 567.0C811.0 574.3 813.4 577.9 819.0 577.9C823.1 577.9 823.7 576.8 827.8 576.8C833.4 576.8 834.1 579.7 839.8 579.7C845.4 579.7 847.8 564.9 851.8 553.9C855.4 543.9 857.6 517.9 862.7 517.9C866.8 517.9 868.5 540.1 871.4 547.4C874.3 554.6 877.3 556.6 880.2 561.5C883.1 566.5 884.8 576.8 888.9 576.8C892.5 576.8 893.0 572.5 896.5 572.5C900.7 572.5 901.2 577.9 905.3 577.9C910.4 577.9 911.1 559.4 916.2 559.4C919.8 559.4 921.3 564.1 923.8 565.9C926.4 567.7 927.9 570.3 931.5 570.3C935.1 570.3 936.6 547.4 939.1 545.2C941.7 543.0 943.2 541.9 946.8 541.9C950.4 541.9 951.9 544.2 954.4 547.4C958.1 551.9 961.7 563.8 965.3 569.2C969.3 575.1 971.7 580.1 977.3 580.1C982.0 580.1 983.9 578.6 987.2 575.7C990.1 573.2 993.0 568.1 995.9 564.8C998.8 561.5 1001.7 561.9 1004.6 556.1C1006.8 551.7 1008.1 529.4 1011.2 529.4C1015.3 529.4 1015.8 562.6 1019.9 562.6C1024.6 562.6 1026.5 557.2 1029.8 551.7" fill="none" stroke="#8FAADC" stroke-width="1.75" stroke-linecap="round" stroke-linejoin="round"/>
<path d="M580.9 529.9C583.5 527.2 585.0 524.4 588.6 524.4C591.6 524.4 592.9 543.1 595.1 546.3C597.7 549.9 599.2 551.7 602.8 551.7C605.8 551.7 607.1 551.4 609.3 550.6C611.1 550.0 612.2 546.7 614.8 546.7C619.4 546.7 620.0 575.1 624.6 575.1C629.7 575.1 631.9 561.1 635.5 556.1C639.2 551.1 642.8 549.8 646.4 545.2C649.3 541.4 652.3 540.8 655.2 532.1C657.4 525.5 659.5 509.5 661.7 492.8C664.0 474.9 665.4 426.6 668.7 426.6C672.6 426.6 674.2 457.4 677.0 481.8C678.5 494.7 679.9 513.5 681.4 525.5C682.5 534.6 683.1 548.4 684.6 548.4C689.3 548.4 689.9 497.1 694.5 497.1C697.6 497.1 698.8 525.4 701.0 536.4C704.9 555.9 707.2 575.3 712.6 575.3C716.4 575.3 718.0 567.5 720.7 564.8C724.0 561.6 725.9 558.7 730.5 558.7C733.9 558.7 734.3 568.1 737.7 568.1C742.3 568.1 742.9 524.4 747.5 524.4C751.3 524.4 752.9 536.0 755.6 543.0C758.8 551.1 760.6 570.3 765.0 570.3C769.0 570.3 769.5 549.5 773.5 549.5C777.9 549.5 778.5 559.4 782.9 559.4C786.5 559.4 787.0 557.8 790.6 557.8C792.6 557.8 793.5 564.4 795.0 564.8C798.6 565.8 800.8 566.4 805.9 566.4C811.1 566.4 813.2 565.1 816.8 562.6C820.5 560.2 824.1 553.0 827.8 543.0C830.7 535.0 833.6 525.5 836.5 512.4C838.8 501.9 840.2 475.3 843.5 475.3C847.6 475.3 848.1 509.8 852.2 509.8C856.6 509.8 857.2 472.0 861.6 472.0C865.7 472.0 867.4 480.5 870.3 497.1C873.3 513.8 875.0 571.8 879.1 571.8C883.7 571.8 885.6 557.3 888.9 547.4C891.2 540.3 892.6 523.3 895.9 523.3C899.8 523.3 901.4 543.0 904.2 549.5C907.1 556.4 910.0 559.3 912.9 562.6C916.2 566.4 918.1 570.3 922.8 570.3C926.9 570.3 928.6 568.5 931.5 564.8C934.8 560.7 938.0 546.2 941.3 536.4C943.7 529.3 945.1 514.6 948.5 514.6C952.3 514.6 953.9 542.4 956.6 547.4C959.5 552.7 961.2 555.4 965.3 555.4C969.4 555.4 971.2 530.4 974.1 523.3C976.3 518.0 978.4 514.5 980.6 513.5C982.8 512.5 984.1 512.0 987.2 512.0C989.7 512.0 990.8 512.8 992.6 514.6C995.5 517.4 997.3 556.5 1001.4 556.5C1005.5 556.5 1007.2 532.8 1010.1 514.6C1013.2 495.4 1015.0 443.0 1019.3 443.0C1023.2 443.0 1024.8 460.4 1027.6 477.9" fill="none" stroke="#BF9000" stroke-width="1.75" stroke-linecap="round" stroke-linejoin="round"/>
<path d="M578.1 523.3C581.0 505.0 582.7 486.6 586.8 486.6C591.0 486.6 591.6 536.0 595.8 536.0C599.6 536.0 600.1 523.8 603.8 523.8C606.9 523.8 608.2 543.8 610.4 547.4C613.8 552.9 615.8 555.7 620.7 555.7C624.1 555.7 625.5 528.3 627.9 521.1C629.3 516.8 630.2 513.1 632.2 513.1C638.9 513.1 641.7 513.6 646.4 514.6C649.7 515.3 653.0 530.6 656.3 535.3C659.5 540.1 662.8 540.6 666.1 543.0C670.5 546.2 674.8 547.6 679.2 551.7C683.2 555.5 685.6 565.9 691.2 565.9C695.3 565.9 697.0 521.1 699.9 520.1C702.8 519.0 705.8 519.5 708.7 518.5C711.2 517.6 713.8 511.3 716.3 507.0C719.8 501.0 721.9 486.6 726.8 486.6C731.6 486.6 732.2 501.1 737.1 501.1C740.7 501.1 742.2 499.0 744.7 494.9C747.8 489.9 749.7 463.3 754.1 463.3C757.9 463.3 759.5 466.8 762.2 469.8C765.1 473.2 768.0 479.1 770.9 482.9C773.8 486.8 776.7 486.2 779.6 492.8C782.6 499.3 785.5 513.2 788.4 525.5C790.6 534.9 792.8 548.9 795.0 556.1C797.9 565.6 800.8 566.8 803.7 570.3C807.4 574.6 809.5 577.3 814.7 577.3C818.8 577.3 820.5 572.1 823.4 571.4C826.3 570.6 829.2 571.0 832.1 570.3C836.5 569.2 840.9 567.3 845.2 561.5C848.1 557.7 851.1 550.9 854.0 546.3C856.1 542.8 857.4 536.4 860.5 536.4C863.6 536.4 864.0 536.4 867.1 536.4C871.2 536.4 871.7 551.7 875.8 551.7C879.4 551.7 880.9 533.1 883.4 531.0C886.4 528.5 888.1 527.3 892.2 527.3C895.3 527.3 896.5 551.5 898.7 558.3C902.4 569.6 904.5 575.3 909.6 575.3C914.6 575.3 915.2 533.6 920.1 533.6C923.9 533.6 925.5 552.3 928.2 558.3C931.9 566.3 935.5 569.7 939.1 570.3C943.5 571.0 946.1 571.4 952.2 571.4C958.4 571.4 961.0 568.5 965.3 562.6C967.5 559.7 969.7 552.8 971.9 543.0C974.1 533.2 976.3 511.7 978.4 503.7C980.0 497.8 981.0 494.3 983.2 494.3C986.6 494.3 988.0 494.9 990.5 496.0C993.0 497.3 995.5 499.7 998.1 507.0C1000.3 513.2 1002.5 531.6 1004.6 536.4C1008.3 544.4 1010.4 548.4 1015.6 548.4C1020.2 548.4 1022.1 545.2 1025.4 541.9" fill="none" stroke="#7F7F7F" stroke-width="1.75" stroke-linecap="round" stroke-linejoin="round"/>
<path d="M576.6 487.7C578.4 505.8 580.2 523.9 582.0 536.4C583.8 548.9 585.7 558.7 587.5 562.6C590.0 568.2 591.5 570.9 595.1 570.9C599.2 570.9 600.9 568.2 603.8 562.6C606.6 557.4 608.2 535.8 612.1 535.8C615.4 535.8 615.9 546.3 619.1 546.3C622.7 546.3 623.2 546.3 626.8 546.3C631.9 546.3 634.1 543.5 637.7 542.5C640.6 541.8 642.3 540.8 646.4 540.8C650.0 540.8 651.5 543.5 654.1 547.4C655.9 550.1 657.7 554.6 659.5 558.3C661.7 562.7 663.0 571.8 666.1 571.8C669.2 571.8 669.6 569.2 672.6 569.2C677.3 569.2 677.8 580.5 682.5 580.5C685.0 580.5 686.1 559.2 687.9 551.7C689.5 545.1 690.5 536.9 692.7 536.9C696.4 536.9 698.0 540.3 700.6 543.6" fill="none" stroke="#C9121C" stroke-width="2.1" stroke-linecap="round" stroke-linejoin="round"/>
<text x="795.0" y="387.3" font-size="18.5" text-anchor="middle" font-family='"Liberation Serif","Noto Serif CJK SC",serif' font-weight="bold" fill="#000" textLength="246" lengthAdjust="spacing">焦煤周度日均流拍量(万吨)</text>
<line x1="639.6" y1="399.4" x2="662.2" y2="399.4" stroke="#548235" stroke-width="1.75" stroke-linecap="round"/>
<text x="667.0" y="404.6" font-size="13.8" text-anchor="start" font-family='"Liberation Sans","Noto Sans CJK SC",sans-serif' fill="#262626" textLength="27.4" lengthAdjust="spacingAndGlyphs">2022</text>
<line x1="703.6" y1="399.4" x2="726.2" y2="399.4" stroke="#8FAADC" stroke-width="1.75" stroke-linecap="round"/>
<text x="731.0" y="404.6" font-size="13.8" text-anchor="start" font-family='"Liberation Sans","Noto Sans CJK SC",sans-serif' fill="#262626" textLength="27.4" lengthAdjust="spacingAndGlyphs">2023</text>
<line x1="767.6" y1="399.4" x2="790.2" y2="399.4" stroke="#BF9000" stroke-width="1.75" stroke-linecap="round"/>
<text x="795.0" y="404.6" font-size="13.8" text-anchor="start" font-family='"Liberation Sans","Noto Sans CJK SC",sans-serif' fill="#262626" textLength="27.4" lengthAdjust="spacingAndGlyphs">2024</text>
<line x1="831.6" y1="399.4" x2="854.2" y2="399.4" stroke="#7F7F7F" stroke-width="1.75" stroke-linecap="round"/>
<text x="859.0" y="404.6" font-size="13.8" text-anchor="start" font-family='"Liberation Sans","Noto Sans CJK SC",sans-serif' fill="#262626" textLength="27.4" lengthAdjust="spacingAndGlyphs">2025</text>
<line x1="895.6" y1="399.4" x2="918.2" y2="399.4" stroke="#C9121C" stroke-width="2.2" stroke-linecap="round"/>
<text x="923.0" y="404.6" font-size="13.8" text-anchor="start" font-family='"Liberation Sans","Noto Sans CJK SC",sans-serif' fill="#262626" textLength="27.4" lengthAdjust="spacingAndGlyphs">2026</text>
<line x1="585.5" y1="140.5" x2="585.5" y2="330.5" stroke="#949494" stroke-width="1"/>
<line x1="1017.8" y1="140.5" x2="1017.8" y2="330.5" stroke="#949494" stroke-width="1"/>
<line x1="585.5" y1="330.5" x2="1017.8" y2="330.5" stroke="#949494" stroke-width="1"/>
<line x1="580.8" y1="330.5" x2="585.5" y2="330.5" stroke="#949494" stroke-width="1"/>
<text x="577.7" y="333.9" font-size="11.8" text-anchor="end" font-family='"Liberation Sans","Noto Sans CJK SC",sans-serif' fill="#262626" textLength="17.3" lengthAdjust="spacingAndGlyphs">700</text>
<line x1="580.8" y1="292.5" x2="585.5" y2="292.5" stroke="#949494" stroke-width="1"/>
<text x="577.7" y="295.9" font-size="11.8" text-anchor="end" font-family='"Liberation Sans","Noto Sans CJK SC",sans-serif' fill="#262626" textLength="23.1" lengthAdjust="spacingAndGlyphs">1200</text>
<line x1="580.8" y1="254.5" x2="585.5" y2="254.5" stroke="#949494" stroke-width="1"/>
<text x="577.7" y="257.9" font-size="11.8" text-anchor="end" font-family='"Liberation Sans","Noto Sans CJK SC",sans-serif' fill="#262626" textLength="23.1" lengthAdjust="spacingAndGlyphs">1700</text>
<line x1="580.8" y1="216.5" x2="585.5" y2="216.5" stroke="#949494" stroke-width="1"/>
<text x="577.7" y="219.9" font-size="11.8" text-anchor="end" font-family='"Liberation Sans","Noto Sans CJK SC",sans-serif' fill="#262626" textLength="23.1" lengthAdjust="spacingAndGlyphs">2200</text>
<line x1="580.8" y1="178.5" x2="585.5" y2="178.5" stroke="#949494" stroke-width="1"/>
<text x="577.7" y="181.9" font-size="11.8" text-anchor="end" font-family='"Liberation Sans","Noto Sans CJK SC",sans-serif' fill="#262626" textLength="23.1" lengthAdjust="spacingAndGlyphs">2700</text>
<line x1="580.8" y1="140.5" x2="585.5" y2="140.5" stroke="#949494" stroke-width="1"/>
<text x="577.7" y="143.9" font-size="11.8" text-anchor="end" font-family='"Liberation Sans","Noto Sans CJK SC",sans-serif' fill="#262626" textLength="23.1" lengthAdjust="spacingAndGlyphs">3200</text>
<line x1="1017.8" y1="330.5" x2="1022.3" y2="330.5" stroke="#949494" stroke-width="1"/>
<text x="1025.4" y="333.9" font-size="11.8" text-anchor="start" font-family='"Liberation Sans","Noto Sans CJK SC",sans-serif' fill="#262626" textLength="11.5" lengthAdjust="spacingAndGlyphs">10</text>
<line x1="1017.8" y1="309.4" x2="1022.3" y2="309.4" stroke="#949494" stroke-width="1"/>
<text x="1025.4" y="312.8" font-size="11.8" text-anchor="start" font-family='"Liberation Sans","Noto Sans CJK SC",sans-serif' fill="#262626" textLength="11.5" lengthAdjust="spacingAndGlyphs">15</text>
<line x1="1017.8" y1="288.3" x2="1022.3" y2="288.3" stroke="#949494" stroke-width="1"/>
<text x="1025.4" y="291.7" font-size="11.8" text-anchor="start" font-family='"Liberation Sans","Noto Sans CJK SC",sans-serif' fill="#262626" textLength="11.5" lengthAdjust="spacingAndGlyphs">20</text>
<line x1="1017.8" y1="267.2" x2="1022.3" y2="267.2" stroke="#949494" stroke-width="1"/>
<text x="1025.4" y="270.6" font-size="11.8" text-anchor="start" font-family='"Liberation Sans","Noto Sans CJK SC",sans-serif' fill="#262626" textLength="11.5" lengthAdjust="spacingAndGlyphs">25</text>
<line x1="1017.8" y1="246.1" x2="1022.3" y2="246.1" stroke="#949494" stroke-width="1"/>
<text x="1025.4" y="249.5" font-size="11.8" text-anchor="start" font-family='"Liberation Sans","Noto Sans CJK SC",sans-serif' fill="#262626" textLength="11.5" lengthAdjust="spacingAndGlyphs">30</text>
<line x1="1017.8" y1="224.9" x2="1022.3" y2="224.9" stroke="#949494" stroke-width="1"/>
<text x="1025.4" y="228.3" font-size="11.8" text-anchor="start" font-family='"Liberation Sans","Noto Sans CJK SC",sans-serif' fill="#262626" textLength="11.5" lengthAdjust="spacingAndGlyphs">35</text>
<line x1="1017.8" y1="203.8" x2="1022.3" y2="203.8" stroke="#949494" stroke-width="1"/>
<text x="1025.4" y="207.2" font-size="11.8" text-anchor="start" font-family='"Liberation Sans","Noto Sans CJK SC",sans-serif' fill="#262626" textLength="11.5" lengthAdjust="spacingAndGlyphs">40</text>
<line x1="1017.8" y1="182.7" x2="1022.3" y2="182.7" stroke="#949494" stroke-width="1"/>
<text x="1025.4" y="186.1" font-size="11.8" text-anchor="start" font-family='"Liberation Sans","Noto Sans CJK SC",sans-serif' fill="#262626" textLength="11.5" lengthAdjust="spacingAndGlyphs">45</text>
<line x1="1017.8" y1="161.6" x2="1022.3" y2="161.6" stroke="#949494" stroke-width="1"/>
<text x="1025.4" y="165.0" font-size="11.8" text-anchor="start" font-family='"Liberation Sans","Noto Sans CJK SC",sans-serif' fill="#262626" textLength="11.5" lengthAdjust="spacingAndGlyphs">50</text>
<line x1="1017.8" y1="140.5" x2="1022.3" y2="140.5" stroke="#949494" stroke-width="1"/>
<text x="1025.4" y="143.9" font-size="11.8" text-anchor="start" font-family='"Liberation Sans","Noto Sans CJK SC",sans-serif' fill="#262626" textLength="11.5" lengthAdjust="spacingAndGlyphs">55</text>
<line x1="585.5" y1="330.5" x2="585.5" y2="334.8" stroke="#949494" stroke-width="1"/>
<text transform="translate(589.8,355.0) rotate(-90)" font-size="11.8" text-anchor="start" font-family='"Liberation Sans","Noto Sans CJK SC",sans-serif' fill="#262626"><tspan textLength="5.8" lengthAdjust="spacingAndGlyphs">2</tspan><tspan font-family='"Noto Sans CJK SC",sans-serif' font-size="11.9" font-weight="500" dx="0" dy="0.4">…</tspan></text>
<line x1="602.4" y1="330.5" x2="602.4" y2="334.8" stroke="#949494" stroke-width="1"/>
<text transform="translate(606.7,355.0) rotate(-90)" font-size="11.8" text-anchor="start" font-family='"Liberation Sans","Noto Sans CJK SC",sans-serif' fill="#262626"><tspan textLength="5.8" lengthAdjust="spacingAndGlyphs">2</tspan><tspan font-family='"Noto Sans CJK SC",sans-serif' font-size="11.9" font-weight="500" dx="0" dy="0.4">…</tspan></text>
<line x1="619.4" y1="330.5" x2="619.4" y2="334.8" stroke="#949494" stroke-width="1"/>
<text transform="translate(623.7,355.0) rotate(-90)" font-size="11.8" text-anchor="start" font-family='"Liberation Sans","Noto Sans CJK SC",sans-serif' fill="#262626"><tspan textLength="5.8" lengthAdjust="spacingAndGlyphs">2</tspan><tspan font-family='"Noto Sans CJK SC",sans-serif' font-size="11.9" font-weight="500" dx="0" dy="0.4">…</tspan></text>
<line x1="636.3" y1="330.5" x2="636.3" y2="334.8" stroke="#949494" stroke-width="1"/>
<text transform="translate(640.6,355.0) rotate(-90)" font-size="11.8" text-anchor="start" font-family='"Liberation Sans","Noto Sans CJK SC",sans-serif' fill="#262626"><tspan textLength="5.8" lengthAdjust="spacingAndGlyphs">2</tspan><tspan font-family='"Noto Sans CJK SC",sans-serif' font-size="11.9" font-weight="500" dx="0" dy="0.4">…</tspan></text>
<line x1="653.3" y1="330.5" x2="653.3" y2="334.8" stroke="#949494" stroke-width="1"/>
<text transform="translate(657.6,355.0) rotate(-90)" font-size="11.8" text-anchor="start" font-family='"Liberation Sans","Noto Sans CJK SC",sans-serif' fill="#262626"><tspan textLength="5.8" lengthAdjust="spacingAndGlyphs">2</tspan><tspan font-family='"Noto Sans CJK SC",sans-serif' font-size="11.9" font-weight="500" dx="0" dy="0.4">…</tspan></text>
<line x1="670.2" y1="330.5" x2="670.2" y2="334.8" stroke="#949494" stroke-width="1"/>
<text transform="translate(674.5,355.0) rotate(-90)" font-size="11.8" text-anchor="start" font-family='"Liberation Sans","Noto Sans CJK SC",sans-serif' fill="#262626"><tspan textLength="5.8" lengthAdjust="spacingAndGlyphs">2</tspan><tspan font-family='"Noto Sans CJK SC",sans-serif' font-size="11.9" font-weight="500" dx="0" dy="0.4">…</tspan></text>
<line x1="687.2" y1="330.5" x2="687.2" y2="334.8" stroke="#949494" stroke-width="1"/>
<text transform="translate(691.5,355.0) rotate(-90)" font-size="11.8" text-anchor="start" font-family='"Liberation Sans","Noto Sans CJK SC",sans-serif' fill="#262626"><tspan textLength="5.8" lengthAdjust="spacingAndGlyphs">2</tspan><tspan font-family='"Noto Sans CJK SC",sans-serif' font-size="11.9" font-weight="500" dx="0" dy="0.4">…</tspan></text>
<line x1="704.1" y1="330.5" x2="704.1" y2="334.8" stroke="#949494" stroke-width="1"/>
<text transform="translate(708.4,355.0) rotate(-90)" font-size="11.8" text-anchor="start" font-family='"Liberation Sans","Noto Sans CJK SC",sans-serif' fill="#262626"><tspan textLength="5.8" lengthAdjust="spacingAndGlyphs">2</tspan><tspan font-family='"Noto Sans CJK SC",sans-serif' font-size="11.9" font-weight="500" dx="0" dy="0.4">…</tspan></text>
<line x1="721.1" y1="330.5" x2="721.1" y2="334.8" stroke="#949494" stroke-width="1"/>
<text transform="translate(725.4,355.0) rotate(-90)" font-size="11.8" text-anchor="start" font-family='"Liberation Sans","Noto Sans CJK SC",sans-serif' fill="#262626"><tspan textLength="5.8" lengthAdjust="spacingAndGlyphs">2</tspan><tspan font-family='"Noto Sans CJK SC",sans-serif' font-size="11.9" font-weight="500" dx="0" dy="0.4">…</tspan></text>
<line x1="738.0" y1="330.5" x2="738.0" y2="334.8" stroke="#949494" stroke-width="1"/>
<text transform="translate(742.3,355.0) rotate(-90)" font-size="11.8" text-anchor="start" font-family='"Liberation Sans","Noto Sans CJK SC",sans-serif' fill="#262626"><tspan textLength="5.8" lengthAdjust="spacingAndGlyphs">2</tspan><tspan font-family='"Noto Sans CJK SC",sans-serif' font-size="11.9" font-weight="500" dx="0" dy="0.4">…</tspan></text>
<line x1="755.0" y1="330.5" x2="755.0" y2="334.8" stroke="#949494" stroke-width="1"/>
<text transform="translate(759.3,355.0) rotate(-90)" font-size="11.8" text-anchor="start" font-family='"Liberation Sans","Noto Sans CJK SC",sans-serif' fill="#262626"><tspan textLength="5.8" lengthAdjust="spacingAndGlyphs">2</tspan><tspan font-family='"Noto Sans CJK SC",sans-serif' font-size="11.9" font-weight="500" dx="0" dy="0.4">…</tspan></text>
<line x1="771.9" y1="330.5" x2="771.9" y2="334.8" stroke="#949494" stroke-width="1"/>
<text transform="translate(776.2,355.0) rotate(-90)" font-size="11.8" text-anchor="start" font-family='"Liberation Sans","Noto Sans CJK SC",sans-serif' fill="#262626"><tspan textLength="5.8" lengthAdjust="spacingAndGlyphs">2</tspan><tspan font-family='"Noto Sans CJK SC",sans-serif' font-size="11.9" font-weight="500" dx="0" dy="0.4">…</tspan></text>
<line x1="788.8" y1="330.5" x2="788.8" y2="334.8" stroke="#949494" stroke-width="1"/>
<text transform="translate(793.1,355.0) rotate(-90)" font-size="11.8" text-anchor="start" font-family='"Liberation Sans","Noto Sans CJK SC",sans-serif' fill="#262626"><tspan textLength="5.8" lengthAdjust="spacingAndGlyphs">2</tspan><tspan font-family='"Noto Sans CJK SC",sans-serif' font-size="11.9" font-weight="500" dx="0" dy="0.4">…</tspan></text>
<line x1="805.8" y1="330.5" x2="805.8" y2="334.8" stroke="#949494" stroke-width="1"/>
<text transform="translate(810.1,355.0) rotate(-90)" font-size="11.8" text-anchor="start" font-family='"Liberation Sans","Noto Sans CJK SC",sans-serif' fill="#262626"><tspan textLength="5.8" lengthAdjust="spacingAndGlyphs">2</tspan><tspan font-family='"Noto Sans CJK SC",sans-serif' font-size="11.9" font-weight="500" dx="0" dy="0.4">…</tspan></text>
<line x1="822.7" y1="330.5" x2="822.7" y2="334.8" stroke="#949494" stroke-width="1"/>
<text transform="translate(827.0,355.0) rotate(-90)" font-size="11.8" text-anchor="start" font-family='"Liberation Sans","Noto Sans CJK SC",sans-serif' fill="#262626"><tspan textLength="5.8" lengthAdjust="spacingAndGlyphs">2</tspan><tspan font-family='"Noto Sans CJK SC",sans-serif' font-size="11.9" font-weight="500" dx="0" dy="0.4">…</tspan></text>
<line x1="839.7" y1="330.5" x2="839.7" y2="334.8" stroke="#949494" stroke-width="1"/>
<text transform="translate(844.0,355.0) rotate(-90)" font-size="11.8" text-anchor="start" font-family='"Liberation Sans","Noto Sans CJK SC",sans-serif' fill="#262626"><tspan textLength="5.8" lengthAdjust="spacingAndGlyphs">2</tspan><tspan font-family='"Noto Sans CJK SC",sans-serif' font-size="11.9" font-weight="500" dx="0" dy="0.4">…</tspan></text>
<line x1="856.6" y1="330.5" x2="856.6" y2="334.8" stroke="#949494" stroke-width="1"/>
<text transform="translate(860.9,355.0) rotate(-90)" font-size="11.8" text-anchor="start" font-family='"Liberation Sans","Noto Sans CJK SC",sans-serif' fill="#262626"><tspan textLength="5.8" lengthAdjust="spacingAndGlyphs">2</tspan><tspan font-family='"Noto Sans CJK SC",sans-serif' font-size="11.9" font-weight="500" dx="0" dy="0.4">…</tspan></text>
<line x1="873.6" y1="330.5" x2="873.6" y2="334.8" stroke="#949494" stroke-width="1"/>
<text transform="translate(877.9,355.0) rotate(-90)" font-size="11.8" text-anchor="start" font-family='"Liberation Sans","Noto Sans CJK SC",sans-serif' fill="#262626"><tspan textLength="5.8" lengthAdjust="spacingAndGlyphs">2</tspan><tspan font-family='"Noto Sans CJK SC",sans-serif' font-size="11.9" font-weight="500" dx="0" dy="0.4">…</tspan></text>
<line x1="890.5" y1="330.5" x2="890.5" y2="334.8" stroke="#949494" stroke-width="1"/>
<text transform="translate(894.8,355.0) rotate(-90)" font-size="11.8" text-anchor="start" font-family='"Liberation Sans","Noto Sans CJK SC",sans-serif' fill="#262626"><tspan textLength="5.8" lengthAdjust="spacingAndGlyphs">2</tspan><tspan font-family='"Noto Sans CJK SC",sans-serif' font-size="11.9" font-weight="500" dx="0" dy="0.4">…</tspan></text>
<line x1="907.5" y1="330.5" x2="907.5" y2="334.8" stroke="#949494" stroke-width="1"/>
<text transform="translate(911.8,355.0) rotate(-90)" font-size="11.8" text-anchor="start" font-family='"Liberation Sans","Noto Sans CJK SC",sans-serif' fill="#262626"><tspan textLength="5.8" lengthAdjust="spacingAndGlyphs">2</tspan><tspan font-family='"Noto Sans CJK SC",sans-serif' font-size="11.9" font-weight="500" dx="0" dy="0.4">…</tspan></text>
<line x1="924.4" y1="330.5" x2="924.4" y2="334.8" stroke="#949494" stroke-width="1"/>
<text transform="translate(928.7,355.0) rotate(-90)" font-size="11.8" text-anchor="start" font-family='"Liberation Sans","Noto Sans CJK SC",sans-serif' fill="#262626"><tspan textLength="5.8" lengthAdjust="spacingAndGlyphs">2</tspan><tspan font-family='"Noto Sans CJK SC",sans-serif' font-size="11.9" font-weight="500" dx="0" dy="0.4">…</tspan></text>
<line x1="941.3" y1="330.5" x2="941.3" y2="334.8" stroke="#949494" stroke-width="1"/>
<text transform="translate(945.6,355.0) rotate(-90)" font-size="11.8" text-anchor="start" font-family='"Liberation Sans","Noto Sans CJK SC",sans-serif' fill="#262626"><tspan textLength="5.8" lengthAdjust="spacingAndGlyphs">2</tspan><tspan font-family='"Noto Sans CJK SC",sans-serif' font-size="11.9" font-weight="500" dx="0" dy="0.4">…</tspan></text>
<line x1="958.3" y1="330.5" x2="958.3" y2="334.8" stroke="#949494" stroke-width="1"/>
<text transform="translate(962.6,355.0) rotate(-90)" font-size="11.8" text-anchor="start" font-family='"Liberation Sans","Noto Sans CJK SC",sans-serif' fill="#262626"><tspan textLength="5.8" lengthAdjust="spacingAndGlyphs">2</tspan><tspan font-family='"Noto Sans CJK SC",sans-serif' font-size="11.9" font-weight="500" dx="0" dy="0.4">…</tspan></text>
<line x1="975.2" y1="330.5" x2="975.2" y2="334.8" stroke="#949494" stroke-width="1"/>
<text transform="translate(979.5,355.0) rotate(-90)" font-size="11.8" text-anchor="start" font-family='"Liberation Sans","Noto Sans CJK SC",sans-serif' fill="#262626"><tspan textLength="5.8" lengthAdjust="spacingAndGlyphs">2</tspan><tspan font-family='"Noto Sans CJK SC",sans-serif' font-size="11.9" font-weight="500" dx="0" dy="0.4">…</tspan></text>
<line x1="992.2" y1="330.5" x2="992.2" y2="334.8" stroke="#949494" stroke-width="1"/>
<text transform="translate(996.5,355.0) rotate(-90)" font-size="11.8" text-anchor="start" font-family='"Liberation Sans","Noto Sans CJK SC",sans-serif' fill="#262626"><tspan textLength="5.8" lengthAdjust="spacingAndGlyphs">2</tspan><tspan font-family='"Noto Sans CJK SC",sans-serif' font-size="11.9" font-weight="500" dx="0" dy="0.4">…</tspan></text>
<line x1="1009.1" y1="330.5" x2="1009.1" y2="334.8" stroke="#949494" stroke-width="1"/>
<text transform="translate(1013.4,355.0) rotate(-90)" font-size="11.8" text-anchor="start" font-family='"Liberation Sans","Noto Sans CJK SC",sans-serif' fill="#262626"><tspan textLength="5.8" lengthAdjust="spacingAndGlyphs">2</tspan><tspan font-family='"Noto Sans CJK SC",sans-serif' font-size="11.9" font-weight="500" dx="0" dy="0.4">…</tspan></text>
<path d="M602.4 323.3C603.6 321.9 608.6 320.7 610.9 313.1C613.3 305.5 617.0 272.9 619.4 268.5C621.7 264.1 625.5 282.0 627.9 281.3C630.2 280.6 634.0 263.3 636.3 263.4C638.7 263.5 642.5 283.5 644.8 282.0C647.2 280.5 650.9 253.7 653.3 252.8C655.6 251.9 659.4 276.4 661.8 275.7C664.1 275.0 667.9 249.9 670.2 247.7C672.6 245.5 676.3 260.2 678.7 260.1C681.1 260.0 684.8 250.2 687.2 246.9C689.5 243.7 693.3 240.8 695.6 236.7C698.0 232.6 701.8 220.9 704.1 217.6C706.5 214.3 710.2 210.7 712.6 213.1C714.9 215.5 718.7 232.4 721.1 235.1C723.4 237.8 727.2 228.6 729.5 232.6C731.9 236.6 735.7 263.9 738.0 264.2C740.4 264.5 744.1 237.4 746.5 234.7C748.8 232.0 752.6 244.1 755.0 244.8C757.3 245.5 761.1 239.2 763.4 239.7C765.8 240.2 769.5 247.4 771.9 248.6C774.2 249.8 778.0 253.0 780.4 248.6C782.7 244.2 786.5 215.4 788.8 216.8C791.2 218.2 795.0 262.9 797.3 258.8C799.7 254.7 803.4 193.4 805.8 187.0C808.1 180.6 811.9 207.0 814.3 213.0C816.6 219.0 820.4 230.0 822.7 230.0C825.1 230.0 828.9 216.2 831.2 213.0C833.6 209.8 837.3 209.8 839.7 206.6C842.0 203.3 845.8 190.5 848.1 189.6C850.5 188.7 854.3 198.1 856.6 200.3C859.0 202.5 862.7 205.6 865.1 205.4C867.4 205.2 871.2 202.3 873.6 199.0C875.9 195.7 879.7 183.5 882.0 181.9C884.4 180.3 888.2 184.8 890.5 187.5C892.9 190.2 896.6 196.4 899.0 201.5C901.3 206.6 905.1 224.1 907.5 223.9C909.8 223.7 913.6 205.1 915.9 200.3C918.3 195.5 922.0 189.1 924.4 189.6C926.8 190.1 930.5 194.3 932.9 204.1C935.2 213.9 939.0 253.7 941.3 260.1C943.7 266.5 947.5 254.2 949.8 249.9C952.2 245.6 955.9 230.2 958.3 229.0C960.6 227.8 964.4 242.0 966.8 241.5C969.1 241.0 972.9 229.8 975.2 225.7C977.6 221.6 981.4 209.6 983.7 211.7C986.1 213.8 989.8 237.7 992.2 241.0C994.5 244.3 998.3 235.8 1000.7 235.4C1003.0 235.0 1006.8 242.0 1009.1 238.4C1011.5 234.8 1016.4 213.7 1017.6 209.7" fill="none" stroke="#7F7F7F" stroke-width="1.9" stroke-linecap="round" stroke-linejoin="round"/>
<path d="M585.5 211.2C586.7 209.1 591.6 203.4 594.0 196.4C596.3 189.4 600.1 167.1 602.4 160.8C604.8 154.6 608.6 148.3 610.9 151.4C613.3 154.5 617.0 178.4 619.4 183.2C621.7 188.0 625.5 179.9 627.9 185.8C630.2 191.7 634.0 219.4 636.3 225.7C638.7 231.9 642.5 229.5 644.8 230.8C647.2 232.1 650.9 234.7 653.3 235.1C655.6 235.5 659.4 233.5 661.8 233.4C664.1 233.3 667.9 234.2 670.2 234.4C672.6 234.6 676.3 233.9 678.7 235.1C681.1 236.3 684.8 242.1 687.2 243.0C689.5 243.9 693.3 242.0 695.6 241.5C698.0 241.0 701.8 236.6 704.1 239.7C706.5 242.8 710.2 257.6 712.6 263.5C714.9 269.4 718.7 279.7 721.1 282.5C723.4 285.3 727.2 284.6 729.5 283.8C731.9 283.0 735.7 278.2 738.0 276.7C740.4 275.2 744.1 276.9 746.5 273.1C748.8 269.3 752.6 252.5 755.0 249.4C757.3 246.3 761.1 253.0 763.4 250.7C765.8 248.4 769.5 235.0 771.9 232.9C774.2 230.8 778.0 234.1 780.4 235.9C782.7 237.7 786.5 243.8 788.8 246.1C791.2 248.4 795.0 250.8 797.3 252.4C799.7 254.0 803.4 257.1 805.8 257.6C808.1 258.1 811.9 256.8 814.3 255.8C816.6 254.8 820.4 250.2 822.7 250.7C825.1 251.2 828.9 257.7 831.2 259.6C833.6 261.5 837.3 262.2 839.7 264.7C842.0 267.2 845.8 274.6 848.1 277.4C850.5 280.2 854.3 285.2 856.6 285.1C859.0 285.0 862.7 276.9 865.1 276.9C867.4 276.9 871.2 282.7 873.6 285.1C875.9 287.5 879.7 292.7 882.0 294.5C884.4 296.3 888.2 297.1 890.5 297.8C892.9 298.5 896.6 298.8 899.0 299.6C901.3 300.4 905.1 302.0 907.5 303.7C909.8 305.4 913.6 309.5 915.9 311.8C918.3 314.1 922.0 318.3 924.4 320.0C926.8 321.7 930.5 325.5 932.9 323.8C935.2 322.1 939.0 312.1 941.3 308.0C943.7 303.9 947.5 296.4 949.8 294.5C952.2 292.6 955.9 295.0 958.3 294.5C960.6 294.0 964.4 291.0 966.8 290.7C969.1 290.4 972.9 290.8 975.2 292.2C977.6 293.6 981.4 300.6 983.7 301.1C986.1 301.6 989.8 296.4 992.2 295.8C994.5 295.2 998.3 297.5 1000.7 297.0C1003.0 296.5 1006.8 292.4 1009.1 292.2C1011.5 292.0 1016.4 294.9 1017.6 295.3" fill="none" stroke="#C9121C" stroke-width="2.2" stroke-linecap="round" stroke-linejoin="round"/>
<line x1="558.9" y1="130.8" x2="582.6" y2="130.8" stroke="#C9121C" stroke-width="2.0"/>
<text x="587.7" y="134.8" font-size="11" text-anchor="start" font-family='"Liberation Serif","Noto Serif CJK SC",serif' font-weight="normal" fill="#1a1a1a" textLength="205.5" lengthAdjust="spacing">焦煤收盘价(月度日均，左轴，元/吨)</text>
<line x1="803.0" y1="130.8" x2="826.7" y2="130.8" stroke="#7F7F7F" stroke-width="1.8"/>
<text x="831.0" y="134.8" font-size="11" text-anchor="start" font-family='"Liberation Serif","Noto Serif CJK SC",serif' font-weight="normal" fill="#1a1a1a" textLength="197.5" lengthAdjust="spacing">焦煤挂牌量(月度日均，右轴，万吨)</text>
</svg>
</body></html>
